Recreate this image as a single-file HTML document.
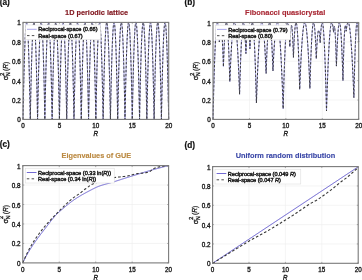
<!DOCTYPE html>
<html><head><meta charset="utf-8"><style>
html,body{margin:0;padding:0;background:#fff;}
svg{display:block;will-change:transform;}
text{font-family:"Liberation Sans",sans-serif;}
.t{stroke:#222;stroke-width:0.35px;}
.t2{stroke:#222;stroke-width:0.45px;}
</style></head><body>
<svg width="362" height="280" viewBox="0 0 362 280">
<rect width="362" height="280" fill="#fff"/>
<line x1="59.42" y1="22.4" x2="59.42" y2="119.4" stroke="#ececec" stroke-width="0.6"/>
<line x1="95.85" y1="22.4" x2="95.85" y2="119.4" stroke="#ececec" stroke-width="0.6"/>
<line x1="132.28" y1="22.4" x2="132.28" y2="119.4" stroke="#ececec" stroke-width="0.6"/>
<line x1="23.0" y1="100.00" x2="168.7" y2="100.00" stroke="#ececec" stroke-width="0.6"/>
<line x1="23.0" y1="80.60" x2="168.7" y2="80.60" stroke="#ececec" stroke-width="0.6"/>
<line x1="23.0" y1="61.20" x2="168.7" y2="61.20" stroke="#ececec" stroke-width="0.6"/>
<line x1="23.0" y1="41.80" x2="168.7" y2="41.80" stroke="#ececec" stroke-width="0.6"/>
<line x1="249.43" y1="22.5" x2="249.43" y2="119.4" stroke="#ececec" stroke-width="0.6"/>
<line x1="285.85" y1="22.5" x2="285.85" y2="119.4" stroke="#ececec" stroke-width="0.6"/>
<line x1="322.27" y1="22.5" x2="322.27" y2="119.4" stroke="#ececec" stroke-width="0.6"/>
<line x1="213.0" y1="100.02" x2="358.7" y2="100.02" stroke="#ececec" stroke-width="0.6"/>
<line x1="213.0" y1="80.64" x2="358.7" y2="80.64" stroke="#ececec" stroke-width="0.6"/>
<line x1="213.0" y1="61.26" x2="358.7" y2="61.26" stroke="#ececec" stroke-width="0.6"/>
<line x1="213.0" y1="41.88" x2="358.7" y2="41.88" stroke="#ececec" stroke-width="0.6"/>
<line x1="59.25" y1="165.6" x2="59.25" y2="262.9" stroke="#ececec" stroke-width="0.6"/>
<line x1="95.70" y1="165.6" x2="95.70" y2="262.9" stroke="#ececec" stroke-width="0.6"/>
<line x1="132.15" y1="165.6" x2="132.15" y2="262.9" stroke="#ececec" stroke-width="0.6"/>
<line x1="22.8" y1="243.44" x2="168.6" y2="243.44" stroke="#ececec" stroke-width="0.6"/>
<line x1="22.8" y1="223.98" x2="168.6" y2="223.98" stroke="#ececec" stroke-width="0.6"/>
<line x1="22.8" y1="204.52" x2="168.6" y2="204.52" stroke="#ececec" stroke-width="0.6"/>
<line x1="22.8" y1="185.06" x2="168.6" y2="185.06" stroke="#ececec" stroke-width="0.6"/>
<line x1="249.00" y1="166.6" x2="249.00" y2="263.3" stroke="#ececec" stroke-width="0.6"/>
<line x1="285.40" y1="166.6" x2="285.40" y2="263.3" stroke="#ececec" stroke-width="0.6"/>
<line x1="321.80" y1="166.6" x2="321.80" y2="263.3" stroke="#ececec" stroke-width="0.6"/>
<line x1="212.6" y1="243.96" x2="358.2" y2="243.96" stroke="#ececec" stroke-width="0.6"/>
<line x1="212.6" y1="224.62" x2="358.2" y2="224.62" stroke="#ececec" stroke-width="0.6"/>
<line x1="212.6" y1="205.28" x2="358.2" y2="205.28" stroke="#ececec" stroke-width="0.6"/>
<line x1="212.6" y1="185.94" x2="358.2" y2="185.94" stroke="#ececec" stroke-width="0.6"/>
<polyline points="23.00,119.40 23.07,115.56 23.15,111.80 23.22,108.11 23.29,104.50 23.36,100.97 23.44,97.52 23.51,94.14 23.58,90.84 23.66,87.62 23.73,84.48 23.80,81.41 23.87,78.43 23.95,75.52 24.02,72.68 24.09,69.93 24.17,67.25 24.24,64.65 24.31,62.13 24.38,59.69 24.46,57.32 24.53,55.03 24.60,52.82 24.68,50.69 24.75,48.63 24.82,46.65 24.89,44.75 24.97,42.93 25.04,41.18 25.11,39.51 25.19,37.92 25.26,36.41 25.33,34.97 25.40,33.61 25.48,32.33 25.55,31.13 25.62,30.00 25.70,28.96 25.77,27.99 25.84,27.09 25.91,26.28 25.99,25.54 26.06,24.88 26.13,24.30 26.21,23.80 26.28,23.37 26.35,23.02 26.42,22.75 26.50,22.56 26.57,22.44 26.64,22.40 26.72,22.44 26.79,22.56 26.86,22.75 26.93,23.02 27.01,23.37 27.08,23.80 27.15,24.30 27.23,24.88 27.30,25.54 27.37,26.28 27.44,27.09 27.52,27.99 27.59,28.96 27.66,30.00 27.74,31.13 27.81,32.33 27.88,33.61 27.95,34.97 28.03,36.41 28.10,37.92 28.17,39.51 28.25,41.18 28.32,42.93 28.39,44.75 28.46,46.65 28.54,48.63 28.61,50.69 28.68,52.82 28.76,55.03 28.83,57.32 28.90,59.69 28.97,62.13 29.05,64.65 29.12,67.25 29.19,69.93 29.27,72.68 29.34,75.52 29.41,78.43 29.48,81.41 29.56,84.48 29.63,87.62 29.70,90.84 29.78,94.14 29.85,97.52 29.92,100.97 29.99,104.50 30.07,108.11 30.14,111.80 30.21,115.56 30.29,119.40 30.36,115.56 30.43,111.80 30.50,108.11 30.58,104.50 30.65,100.97 30.72,97.52 30.79,94.14 30.87,90.84 30.94,87.62 31.01,84.48 31.09,81.41 31.16,78.43 31.23,75.52 31.30,72.68 31.38,69.93 31.45,67.25 31.52,64.65 31.60,62.13 31.67,59.69 31.74,57.32 31.81,55.03 31.89,52.82 31.96,50.69 32.03,48.63 32.11,46.65 32.18,44.75 32.25,42.93 32.32,41.18 32.40,39.51 32.47,37.92 32.54,36.41 32.62,34.97 32.69,33.61 32.76,32.33 32.83,31.13 32.91,30.00 32.98,28.96 33.05,27.99 33.13,27.09 33.20,26.28 33.27,25.54 33.34,24.88 33.42,24.30 33.49,23.80 33.56,23.37 33.64,23.02 33.71,22.75 33.78,22.56 33.85,22.44 33.93,22.40 34.00,22.44 34.07,22.56 34.15,22.75 34.22,23.02 34.29,23.37 34.36,23.80 34.44,24.30 34.51,24.88 34.58,25.54 34.66,26.28 34.73,27.09 34.80,27.99 34.87,28.96 34.95,30.00 35.02,31.13 35.09,32.33 35.17,33.61 35.24,34.97 35.31,36.41 35.38,37.92 35.46,39.51 35.53,41.18 35.60,42.93 35.68,44.75 35.75,46.65 35.82,48.63 35.89,50.69 35.97,52.82 36.04,55.03 36.11,57.32 36.19,59.69 36.26,62.13 36.33,64.65 36.40,67.25 36.48,69.93 36.55,72.68 36.62,75.52 36.70,78.43 36.77,81.41 36.84,84.48 36.91,87.62 36.99,90.84 37.06,94.14 37.13,97.52 37.21,100.97 37.28,104.50 37.35,108.11 37.42,111.80 37.50,115.56 37.57,119.40 37.64,115.56 37.72,111.80 37.79,108.11 37.86,104.50 37.93,100.97 38.01,97.52 38.08,94.14 38.15,90.84 38.23,87.62 38.30,84.48 38.37,81.41 38.44,78.43 38.52,75.52 38.59,72.68 38.66,69.93 38.74,67.25 38.81,64.65 38.88,62.13 38.95,59.69 39.03,57.32 39.10,55.03 39.17,52.82 39.25,50.69 39.32,48.63 39.39,46.65 39.46,44.75 39.54,42.93 39.61,41.18 39.68,39.51 39.76,37.92 39.83,36.41 39.90,34.97 39.97,33.61 40.05,32.33 40.12,31.13 40.19,30.00 40.27,28.96 40.34,27.99 40.41,27.09 40.48,26.28 40.56,25.54 40.63,24.88 40.70,24.30 40.78,23.80 40.85,23.37 40.92,23.02 40.99,22.75 41.07,22.56 41.14,22.44 41.21,22.40 41.29,22.44 41.36,22.56 41.43,22.75 41.50,23.02 41.58,23.37 41.65,23.80 41.72,24.30 41.80,24.88 41.87,25.54 41.94,26.28 42.01,27.09 42.09,27.99 42.16,28.96 42.23,30.00 42.31,31.13 42.38,32.33 42.45,33.61 42.52,34.97 42.60,36.41 42.67,37.92 42.74,39.51 42.82,41.18 42.89,42.93 42.96,44.75 43.03,46.65 43.11,48.63 43.18,50.69 43.25,52.82 43.33,55.03 43.40,57.32 43.47,59.69 43.54,62.13 43.62,64.65 43.69,67.25 43.76,69.93 43.84,72.68 43.91,75.52 43.98,78.43 44.05,81.41 44.13,84.48 44.20,87.62 44.27,90.84 44.35,94.14 44.42,97.52 44.49,100.97 44.56,104.50 44.64,108.11 44.71,111.80 44.78,115.56 44.85,119.40 44.93,115.56 45.00,111.80 45.07,108.11 45.15,104.50 45.22,100.97 45.29,97.52 45.36,94.14 45.44,90.84 45.51,87.62 45.58,84.48 45.66,81.41 45.73,78.43 45.80,75.52 45.87,72.68 45.95,69.93 46.02,67.25 46.09,64.65 46.17,62.13 46.24,59.69 46.31,57.32 46.38,55.03 46.46,52.82 46.53,50.69 46.60,48.63 46.68,46.65 46.75,44.75 46.82,42.93 46.89,41.18 46.97,39.51 47.04,37.92 47.11,36.41 47.19,34.97 47.26,33.61 47.33,32.33 47.40,31.13 47.48,30.00 47.55,28.96 47.62,27.99 47.70,27.09 47.77,26.28 47.84,25.54 47.91,24.88 47.99,24.30 48.06,23.80 48.13,23.37 48.21,23.02 48.28,22.75 48.35,22.56 48.42,22.44 48.50,22.40 48.57,22.44 48.64,22.56 48.72,22.75 48.79,23.02 48.86,23.37 48.93,23.80 49.01,24.30 49.08,24.88 49.15,25.54 49.23,26.28 49.30,27.09 49.37,27.99 49.44,28.96 49.52,30.00 49.59,31.13 49.66,32.33 49.74,33.61 49.81,34.97 49.88,36.41 49.95,37.92 50.03,39.51 50.10,41.18 50.17,42.93 50.25,44.75 50.32,46.65 50.39,48.63 50.46,50.69 50.54,52.82 50.61,55.03 50.68,57.32 50.76,59.69 50.83,62.13 50.90,64.65 50.97,67.25 51.05,69.93 51.12,72.68 51.19,75.52 51.27,78.43 51.34,81.41 51.41,84.48 51.48,87.62 51.56,90.84 51.63,94.14 51.70,97.52 51.78,100.97 51.85,104.50 51.92,108.11 51.99,111.80 52.07,115.56 52.14,119.40 52.21,115.56 52.29,111.80 52.36,108.11 52.43,104.50 52.50,100.97 52.58,97.52 52.65,94.14 52.72,90.84 52.80,87.62 52.87,84.48 52.94,81.41 53.01,78.43 53.09,75.52 53.16,72.68 53.23,69.93 53.31,67.25 53.38,64.65 53.45,62.13 53.52,59.69 53.60,57.32 53.67,55.03 53.74,52.82 53.82,50.69 53.89,48.63 53.96,46.65 54.03,44.75 54.11,42.93 54.18,41.18 54.25,39.51 54.33,37.92 54.40,36.41 54.47,34.97 54.54,33.61 54.62,32.33 54.69,31.13 54.76,30.00 54.84,28.96 54.91,27.99 54.98,27.09 55.05,26.28 55.13,25.54 55.20,24.88 55.27,24.30 55.35,23.80 55.42,23.37 55.49,23.02 55.56,22.75 55.64,22.56 55.71,22.44 55.78,22.40 55.86,22.44 55.93,22.56 56.00,22.75 56.07,23.02 56.15,23.37 56.22,23.80 56.29,24.30 56.37,24.88 56.44,25.54 56.51,26.28 56.58,27.09 56.66,27.99 56.73,28.96 56.80,30.00 56.88,31.13 56.95,32.33 57.02,33.61 57.09,34.97 57.17,36.41 57.24,37.92 57.31,39.51 57.39,41.18 57.46,42.93 57.53,44.75 57.60,46.65 57.68,48.63 57.75,50.69 57.82,52.82 57.90,55.03 57.97,57.32 58.04,59.69 58.11,62.13 58.19,64.65 58.26,67.25 58.33,69.93 58.41,72.68 58.48,75.52 58.55,78.43 58.62,81.41 58.70,84.48 58.77,87.62 58.84,90.84 58.92,94.14 58.99,97.52 59.06,100.97 59.13,104.50 59.21,108.11 59.28,111.80 59.35,115.56 59.42,119.40 59.50,115.56 59.57,111.80 59.64,108.11 59.72,104.50 59.79,100.97 59.86,97.52 59.93,94.14 60.01,90.84 60.08,87.62 60.15,84.48 60.23,81.41 60.30,78.43 60.37,75.52 60.44,72.68 60.52,69.93 60.59,67.25 60.66,64.65 60.74,62.13 60.81,59.69 60.88,57.32 60.95,55.03 61.03,52.82 61.10,50.69 61.17,48.63 61.25,46.65 61.32,44.75 61.39,42.93 61.46,41.18 61.54,39.51 61.61,37.92 61.68,36.41 61.76,34.97 61.83,33.61 61.90,32.33 61.97,31.13 62.05,30.00 62.12,28.96 62.19,27.99 62.27,27.09 62.34,26.28 62.41,25.54 62.48,24.88 62.56,24.30 62.63,23.80 62.70,23.37 62.78,23.02 62.85,22.75 62.92,22.56 62.99,22.44 63.07,22.40 63.14,22.44 63.21,22.56 63.29,22.75 63.36,23.02 63.43,23.37 63.50,23.80 63.58,24.30 63.65,24.88 63.72,25.54 63.80,26.28 63.87,27.09 63.94,27.99 64.01,28.96 64.09,30.00 64.16,31.13 64.23,32.33 64.31,33.61 64.38,34.97 64.45,36.41 64.52,37.92 64.60,39.51 64.67,41.18 64.74,42.93 64.82,44.75 64.89,46.65 64.96,48.63 65.03,50.69 65.11,52.82 65.18,55.03 65.25,57.32 65.33,59.69 65.40,62.13 65.47,64.65 65.54,67.25 65.62,69.93 65.69,72.68 65.76,75.52 65.84,78.43 65.91,81.41 65.98,84.48 66.05,87.62 66.13,90.84 66.20,94.14 66.27,97.52 66.35,100.97 66.42,104.50 66.49,108.11 66.56,111.80 66.64,115.56 66.71,119.40 66.78,115.56 66.86,111.80 66.93,108.11 67.00,104.50 67.07,100.97 67.15,97.52 67.22,94.14 67.29,90.84 67.37,87.62 67.44,84.48 67.51,81.41 67.58,78.43 67.66,75.52 67.73,72.68 67.80,69.93 67.88,67.25 67.95,64.65 68.02,62.13 68.09,59.69 68.17,57.32 68.24,55.03 68.31,52.82 68.39,50.69 68.46,48.63 68.53,46.65 68.60,44.75 68.68,42.93 68.75,41.18 68.82,39.51 68.90,37.92 68.97,36.41 69.04,34.97 69.11,33.61 69.19,32.33 69.26,31.13 69.33,30.00 69.41,28.96 69.48,27.99 69.55,27.09 69.62,26.28 69.70,25.54 69.77,24.88 69.84,24.30 69.92,23.80 69.99,23.37 70.06,23.02 70.13,22.75 70.21,22.56 70.28,22.44 70.35,22.40 70.43,22.44 70.50,22.56 70.57,22.75 70.64,23.02 70.72,23.37 70.79,23.80 70.86,24.30 70.94,24.88 71.01,25.54 71.08,26.28 71.15,27.09 71.23,27.99 71.30,28.96 71.37,30.00 71.45,31.13 71.52,32.33 71.59,33.61 71.66,34.97 71.74,36.41 71.81,37.92 71.88,39.51 71.96,41.18 72.03,42.93 72.10,44.75 72.17,46.65 72.25,48.63 72.32,50.69 72.39,52.82 72.47,55.03 72.54,57.32 72.61,59.69 72.68,62.13 72.76,64.65 72.83,67.25 72.90,69.93 72.98,72.68 73.05,75.52 73.12,78.43 73.19,81.41 73.27,84.48 73.34,87.62 73.41,90.84 73.49,94.14 73.56,97.52 73.63,100.97 73.70,104.50 73.78,108.11 73.85,111.80 73.92,115.56 73.99,119.40 74.07,115.56 74.14,111.80 74.21,108.11 74.29,104.50 74.36,100.97 74.43,97.52 74.50,94.14 74.58,90.84 74.65,87.62 74.72,84.48 74.80,81.41 74.87,78.43 74.94,75.52 75.01,72.68 75.09,69.93 75.16,67.25 75.23,64.65 75.31,62.13 75.38,59.69 75.45,57.32 75.52,55.03 75.60,52.82 75.67,50.69 75.74,48.63 75.82,46.65 75.89,44.75 75.96,42.93 76.03,41.18 76.11,39.51 76.18,37.92 76.25,36.41 76.33,34.97 76.40,33.61 76.47,32.33 76.54,31.13 76.62,30.00 76.69,28.96 76.76,27.99 76.84,27.09 76.91,26.28 76.98,25.54 77.05,24.88 77.13,24.30 77.20,23.80 77.27,23.37 77.35,23.02 77.42,22.75 77.49,22.56 77.56,22.44 77.64,22.40 77.71,22.44 77.78,22.56 77.86,22.75 77.93,23.02 78.00,23.37 78.07,23.80 78.15,24.30 78.22,24.88 78.29,25.54 78.37,26.28 78.44,27.09 78.51,27.99 78.58,28.96 78.66,30.00 78.73,31.13 78.80,32.33 78.88,33.61 78.95,34.97 79.02,36.41 79.09,37.92 79.17,39.51 79.24,41.18 79.31,42.93 79.39,44.75 79.46,46.65 79.53,48.63 79.60,50.69 79.68,52.82 79.75,55.03 79.82,57.32 79.90,59.69 79.97,62.13 80.04,64.65 80.11,67.25 80.19,69.93 80.26,72.68 80.33,75.52 80.41,78.43 80.48,81.41 80.55,84.48 80.62,87.62 80.70,90.84 80.77,94.14 80.84,97.52 80.92,100.97 80.99,104.50 81.06,108.11 81.13,111.80 81.21,115.56 81.28,119.40 81.35,115.56 81.43,111.80 81.50,108.11 81.57,104.50 81.64,100.97 81.72,97.52 81.79,94.14 81.86,90.84 81.94,87.62 82.01,84.48 82.08,81.41 82.15,78.43 82.23,75.52 82.30,72.68 82.37,69.93 82.45,67.25 82.52,64.65 82.59,62.13 82.66,59.69 82.74,57.32 82.81,55.03 82.88,52.82 82.96,50.69 83.03,48.63 83.10,46.65 83.17,44.75 83.25,42.93 83.32,41.18 83.39,39.51 83.47,37.92 83.54,36.41 83.61,34.97 83.68,33.61 83.76,32.33 83.83,31.13 83.90,30.00 83.98,28.96 84.05,27.99 84.12,27.09 84.19,26.28 84.27,25.54 84.34,24.88 84.41,24.30 84.49,23.80 84.56,23.37 84.63,23.02 84.70,22.75 84.78,22.56 84.85,22.44 84.92,22.40 85.00,22.44 85.07,22.56 85.14,22.75 85.21,23.02 85.29,23.37 85.36,23.80 85.43,24.30 85.51,24.88 85.58,25.54 85.65,26.28 85.72,27.09 85.80,27.99 85.87,28.96 85.94,30.00 86.02,31.13 86.09,32.33 86.16,33.61 86.23,34.97 86.31,36.41 86.38,37.92 86.45,39.51 86.53,41.18 86.60,42.93 86.67,44.75 86.74,46.65 86.82,48.63 86.89,50.69 86.96,52.82 87.04,55.03 87.11,57.32 87.18,59.69 87.25,62.13 87.33,64.65 87.40,67.25 87.47,69.93 87.55,72.68 87.62,75.52 87.69,78.43 87.76,81.41 87.84,84.48 87.91,87.62 87.98,90.84 88.06,94.14 88.13,97.52 88.20,100.97 88.27,104.50 88.35,108.11 88.42,111.80 88.49,115.56 88.56,119.40 88.64,115.56 88.71,111.80 88.78,108.11 88.86,104.50 88.93,100.97 89.00,97.52 89.07,94.14 89.15,90.84 89.22,87.62 89.29,84.48 89.37,81.41 89.44,78.43 89.51,75.52 89.58,72.68 89.66,69.93 89.73,67.25 89.80,64.65 89.88,62.13 89.95,59.69 90.02,57.32 90.09,55.03 90.17,52.82 90.24,50.69 90.31,48.63 90.39,46.65 90.46,44.75 90.53,42.93 90.60,41.18 90.68,39.51 90.75,37.92 90.82,36.41 90.90,34.97 90.97,33.61 91.04,32.33 91.11,31.13 91.19,30.00 91.26,28.96 91.33,27.99 91.41,27.09 91.48,26.28 91.55,25.54 91.62,24.88 91.70,24.30 91.77,23.80 91.84,23.37 91.92,23.02 91.99,22.75 92.06,22.56 92.13,22.44 92.21,22.40 92.28,22.44 92.35,22.56 92.43,22.75 92.50,23.02 92.57,23.37 92.64,23.80 92.72,24.30 92.79,24.88 92.86,25.54 92.94,26.28 93.01,27.09 93.08,27.99 93.15,28.96 93.23,30.00 93.30,31.13 93.37,32.33 93.45,33.61 93.52,34.97 93.59,36.41 93.66,37.92 93.74,39.51 93.81,41.18 93.88,42.93 93.96,44.75 94.03,46.65 94.10,48.63 94.17,50.69 94.25,52.82 94.32,55.03 94.39,57.32 94.47,59.69 94.54,62.13 94.61,64.65 94.68,67.25 94.76,69.93 94.83,72.68 94.90,75.52 94.98,78.43 95.05,81.41 95.12,84.48 95.19,87.62 95.27,90.84 95.34,94.14 95.41,97.52 95.49,100.97 95.56,104.50 95.63,108.11 95.70,111.80 95.78,115.56 95.85,119.40 95.92,115.56 96.00,111.80 96.07,108.11 96.14,104.50 96.21,100.97 96.29,97.52 96.36,94.14 96.43,90.84 96.51,87.62 96.58,84.48 96.65,81.41 96.72,78.43 96.80,75.52 96.87,72.68 96.94,69.93 97.02,67.25 97.09,64.65 97.16,62.13 97.23,59.69 97.31,57.32 97.38,55.03 97.45,52.82 97.53,50.69 97.60,48.63 97.67,46.65 97.74,44.75 97.82,42.93 97.89,41.18 97.96,39.51 98.04,37.92 98.11,36.41 98.18,34.97 98.25,33.61 98.33,32.33 98.40,31.13 98.47,30.00 98.55,28.96 98.62,27.99 98.69,27.09 98.76,26.28 98.84,25.54 98.91,24.88 98.98,24.30 99.06,23.80 99.13,23.37 99.20,23.02 99.27,22.75 99.35,22.56 99.42,22.44 99.49,22.40 99.57,22.44 99.64,22.56 99.71,22.75 99.78,23.02 99.86,23.37 99.93,23.80 100.00,24.30 100.08,24.88 100.15,25.54 100.22,26.28 100.29,27.09 100.37,27.99 100.44,28.96 100.51,30.00 100.59,31.13 100.66,32.33 100.73,33.61 100.80,34.97 100.88,36.41 100.95,37.92 101.02,39.51 101.10,41.18 101.17,42.93 101.24,44.75 101.31,46.65 101.39,48.63 101.46,50.69 101.53,52.82 101.61,55.03 101.68,57.32 101.75,59.69 101.82,62.13 101.90,64.65 101.97,67.25 102.04,69.93 102.12,72.68 102.19,75.52 102.26,78.43 102.33,81.41 102.41,84.48 102.48,87.62 102.55,90.84 102.63,94.14 102.70,97.52 102.77,100.97 102.84,104.50 102.92,108.11 102.99,111.80 103.06,115.56 103.13,119.40 103.21,115.56 103.28,111.80 103.35,108.11 103.43,104.50 103.50,100.97 103.57,97.52 103.64,94.14 103.72,90.84 103.79,87.62 103.86,84.48 103.94,81.41 104.01,78.43 104.08,75.52 104.15,72.68 104.23,69.93 104.30,67.25 104.37,64.65 104.45,62.13 104.52,59.69 104.59,57.32 104.66,55.03 104.74,52.82 104.81,50.69 104.88,48.63 104.96,46.65 105.03,44.75 105.10,42.93 105.17,41.18 105.25,39.51 105.32,37.92 105.39,36.41 105.47,34.97 105.54,33.61 105.61,32.33 105.68,31.13 105.76,30.00 105.83,28.96 105.90,27.99 105.98,27.09 106.05,26.28 106.12,25.54 106.19,24.88 106.27,24.30 106.34,23.80 106.41,23.37 106.49,23.02 106.56,22.75 106.63,22.56 106.70,22.44 106.78,22.40 106.85,22.44 106.92,22.56 107.00,22.75 107.07,23.02 107.14,23.37 107.21,23.80 107.29,24.30 107.36,24.88 107.43,25.54 107.51,26.28 107.58,27.09 107.65,27.99 107.72,28.96 107.80,30.00 107.87,31.13 107.94,32.33 108.02,33.61 108.09,34.97 108.16,36.41 108.23,37.92 108.31,39.51 108.38,41.18 108.45,42.93 108.53,44.75 108.60,46.65 108.67,48.63 108.74,50.69 108.82,52.82 108.89,55.03 108.96,57.32 109.04,59.69 109.11,62.13 109.18,64.65 109.25,67.25 109.33,69.93 109.40,72.68 109.47,75.52 109.55,78.43 109.62,81.41 109.69,84.48 109.76,87.62 109.84,90.84 109.91,94.14 109.98,97.52 110.06,100.97 110.13,104.50 110.20,108.11 110.27,111.80 110.35,115.56 110.42,119.40 110.49,115.56 110.57,111.80 110.64,108.11 110.71,104.50 110.78,100.97 110.86,97.52 110.93,94.14 111.00,90.84 111.08,87.62 111.15,84.48 111.22,81.41 111.29,78.43 111.37,75.52 111.44,72.68 111.51,69.93 111.59,67.25 111.66,64.65 111.73,62.13 111.80,59.69 111.88,57.32 111.95,55.03 112.02,52.82 112.10,50.69 112.17,48.63 112.24,46.65 112.31,44.75 112.39,42.93 112.46,41.18 112.53,39.51 112.61,37.92 112.68,36.41 112.75,34.97 112.82,33.61 112.90,32.33 112.97,31.13 113.04,30.00 113.12,28.96 113.19,27.99 113.26,27.09 113.33,26.28 113.41,25.54 113.48,24.88 113.55,24.30 113.63,23.80 113.70,23.37 113.77,23.02 113.84,22.75 113.92,22.56 113.99,22.44 114.06,22.40 114.14,22.44 114.21,22.56 114.28,22.75 114.35,23.02 114.43,23.37 114.50,23.80 114.57,24.30 114.65,24.88 114.72,25.54 114.79,26.28 114.86,27.09 114.94,27.99 115.01,28.96 115.08,30.00 115.16,31.13 115.23,32.33 115.30,33.61 115.37,34.97 115.45,36.41 115.52,37.92 115.59,39.51 115.67,41.18 115.74,42.93 115.81,44.75 115.88,46.65 115.96,48.63 116.03,50.69 116.10,52.82 116.18,55.03 116.25,57.32 116.32,59.69 116.39,62.13 116.47,64.65 116.54,67.25 116.61,69.93 116.69,72.68 116.76,75.52 116.83,78.43 116.90,81.41 116.98,84.48 117.05,87.62 117.12,90.84 117.20,94.14 117.27,97.52 117.34,100.97 117.41,104.50 117.49,108.11 117.56,111.80 117.63,115.56 117.70,119.40 117.78,115.56 117.85,111.80 117.92,108.11 118.00,104.50 118.07,100.97 118.14,97.52 118.21,94.14 118.29,90.84 118.36,87.62 118.43,84.48 118.51,81.41 118.58,78.43 118.65,75.52 118.72,72.68 118.80,69.93 118.87,67.25 118.94,64.65 119.02,62.13 119.09,59.69 119.16,57.32 119.23,55.03 119.31,52.82 119.38,50.69 119.45,48.63 119.53,46.65 119.60,44.75 119.67,42.93 119.74,41.18 119.82,39.51 119.89,37.92 119.96,36.41 120.04,34.97 120.11,33.61 120.18,32.33 120.25,31.13 120.33,30.00 120.40,28.96 120.47,27.99 120.55,27.09 120.62,26.28 120.69,25.54 120.76,24.88 120.84,24.30 120.91,23.80 120.98,23.37 121.06,23.02 121.13,22.75 121.20,22.56 121.27,22.44 121.35,22.40 121.42,22.44 121.49,22.56 121.57,22.75 121.64,23.02 121.71,23.37 121.78,23.80 121.86,24.30 121.93,24.88 122.00,25.54 122.08,26.28 122.15,27.09 122.22,27.99 122.29,28.96 122.37,30.00 122.44,31.13 122.51,32.33 122.59,33.61 122.66,34.97 122.73,36.41 122.80,37.92 122.88,39.51 122.95,41.18 123.02,42.93 123.10,44.75 123.17,46.65 123.24,48.63 123.31,50.69 123.39,52.82 123.46,55.03 123.53,57.32 123.61,59.69 123.68,62.13 123.75,64.65 123.82,67.25 123.90,69.93 123.97,72.68 124.04,75.52 124.12,78.43 124.19,81.41 124.26,84.48 124.33,87.62 124.41,90.84 124.48,94.14 124.55,97.52 124.63,100.97 124.70,104.50 124.77,108.11 124.84,111.80 124.92,115.56 124.99,119.40 125.06,115.56 125.14,111.80 125.21,108.11 125.28,104.50 125.35,100.97 125.43,97.52 125.50,94.14 125.57,90.84 125.65,87.62 125.72,84.48 125.79,81.41 125.86,78.43 125.94,75.52 126.01,72.68 126.08,69.93 126.16,67.25 126.23,64.65 126.30,62.13 126.37,59.69 126.45,57.32 126.52,55.03 126.59,52.82 126.67,50.69 126.74,48.63 126.81,46.65 126.88,44.75 126.96,42.93 127.03,41.18 127.10,39.51 127.18,37.92 127.25,36.41 127.32,34.97 127.39,33.61 127.47,32.33 127.54,31.13 127.61,30.00 127.69,28.96 127.76,27.99 127.83,27.09 127.90,26.28 127.98,25.54 128.05,24.88 128.12,24.30 128.20,23.80 128.27,23.37 128.34,23.02 128.41,22.75 128.49,22.56 128.56,22.44 128.63,22.40 128.71,22.44 128.78,22.56 128.85,22.75 128.92,23.02 129.00,23.37 129.07,23.80 129.14,24.30 129.22,24.88 129.29,25.54 129.36,26.28 129.43,27.09 129.51,27.99 129.58,28.96 129.65,30.00 129.73,31.13 129.80,32.33 129.87,33.61 129.94,34.97 130.02,36.41 130.09,37.92 130.16,39.51 130.24,41.18 130.31,42.93 130.38,44.75 130.45,46.65 130.53,48.63 130.60,50.69 130.67,52.82 130.75,55.03 130.82,57.32 130.89,59.69 130.96,62.13 131.04,64.65 131.11,67.25 131.18,69.93 131.26,72.68 131.33,75.52 131.40,78.43 131.47,81.41 131.55,84.48 131.62,87.62 131.69,90.84 131.77,94.14 131.84,97.52 131.91,100.97 131.98,104.50 132.06,108.11 132.13,111.80 132.20,115.56 132.28,119.40 132.35,115.56 132.42,111.80 132.49,108.11 132.57,104.50 132.64,100.97 132.71,97.52 132.78,94.14 132.86,90.84 132.93,87.62 133.00,84.48 133.08,81.41 133.15,78.43 133.22,75.52 133.29,72.68 133.37,69.93 133.44,67.25 133.51,64.65 133.59,62.13 133.66,59.69 133.73,57.32 133.80,55.03 133.88,52.82 133.95,50.69 134.02,48.63 134.10,46.65 134.17,44.75 134.24,42.93 134.31,41.18 134.39,39.51 134.46,37.92 134.53,36.41 134.61,34.97 134.68,33.61 134.75,32.33 134.82,31.13 134.90,30.00 134.97,28.96 135.04,27.99 135.12,27.09 135.19,26.28 135.26,25.54 135.33,24.88 135.41,24.30 135.48,23.80 135.55,23.37 135.63,23.02 135.70,22.75 135.77,22.56 135.84,22.44 135.92,22.40 135.99,22.44 136.06,22.56 136.14,22.75 136.21,23.02 136.28,23.37 136.35,23.80 136.43,24.30 136.50,24.88 136.57,25.54 136.65,26.28 136.72,27.09 136.79,27.99 136.86,28.96 136.94,30.00 137.01,31.13 137.08,32.33 137.16,33.61 137.23,34.97 137.30,36.41 137.37,37.92 137.45,39.51 137.52,41.18 137.59,42.93 137.67,44.75 137.74,46.65 137.81,48.63 137.88,50.69 137.96,52.82 138.03,55.03 138.10,57.32 138.18,59.69 138.25,62.13 138.32,64.65 138.39,67.25 138.47,69.93 138.54,72.68 138.61,75.52 138.69,78.43 138.76,81.41 138.83,84.48 138.90,87.62 138.98,90.84 139.05,94.14 139.12,97.52 139.20,100.97 139.27,104.50 139.34,108.11 139.41,111.80 139.49,115.56 139.56,119.40 139.63,115.56 139.71,111.80 139.78,108.11 139.85,104.50 139.92,100.97 140.00,97.52 140.07,94.14 140.14,90.84 140.22,87.62 140.29,84.48 140.36,81.41 140.43,78.43 140.51,75.52 140.58,72.68 140.65,69.93 140.73,67.25 140.80,64.65 140.87,62.13 140.94,59.69 141.02,57.32 141.09,55.03 141.16,52.82 141.24,50.69 141.31,48.63 141.38,46.65 141.45,44.75 141.53,42.93 141.60,41.18 141.67,39.51 141.75,37.92 141.82,36.41 141.89,34.97 141.96,33.61 142.04,32.33 142.11,31.13 142.18,30.00 142.26,28.96 142.33,27.99 142.40,27.09 142.47,26.28 142.55,25.54 142.62,24.88 142.69,24.30 142.77,23.80 142.84,23.37 142.91,23.02 142.98,22.75 143.06,22.56 143.13,22.44 143.20,22.40 143.28,22.44 143.35,22.56 143.42,22.75 143.49,23.02 143.57,23.37 143.64,23.80 143.71,24.30 143.79,24.88 143.86,25.54 143.93,26.28 144.00,27.09 144.08,27.99 144.15,28.96 144.22,30.00 144.30,31.13 144.37,32.33 144.44,33.61 144.51,34.97 144.59,36.41 144.66,37.92 144.73,39.51 144.81,41.18 144.88,42.93 144.95,44.75 145.02,46.65 145.10,48.63 145.17,50.69 145.24,52.82 145.32,55.03 145.39,57.32 145.46,59.69 145.53,62.13 145.61,64.65 145.68,67.25 145.75,69.93 145.83,72.68 145.90,75.52 145.97,78.43 146.04,81.41 146.12,84.48 146.19,87.62 146.26,90.84 146.34,94.14 146.41,97.52 146.48,100.97 146.55,104.50 146.63,108.11 146.70,111.80 146.77,115.56 146.84,119.40 146.92,115.56 146.99,111.80 147.06,108.11 147.14,104.50 147.21,100.97 147.28,97.52 147.35,94.14 147.43,90.84 147.50,87.62 147.57,84.48 147.65,81.41 147.72,78.43 147.79,75.52 147.86,72.68 147.94,69.93 148.01,67.25 148.08,64.65 148.16,62.13 148.23,59.69 148.30,57.32 148.37,55.03 148.45,52.82 148.52,50.69 148.59,48.63 148.67,46.65 148.74,44.75 148.81,42.93 148.88,41.18 148.96,39.51 149.03,37.92 149.10,36.41 149.18,34.97 149.25,33.61 149.32,32.33 149.39,31.13 149.47,30.00 149.54,28.96 149.61,27.99 149.69,27.09 149.76,26.28 149.83,25.54 149.90,24.88 149.98,24.30 150.05,23.80 150.12,23.37 150.20,23.02 150.27,22.75 150.34,22.56 150.41,22.44 150.49,22.40 150.56,22.44 150.63,22.56 150.71,22.75 150.78,23.02 150.85,23.37 150.92,23.80 151.00,24.30 151.07,24.88 151.14,25.54 151.22,26.28 151.29,27.09 151.36,27.99 151.43,28.96 151.51,30.00 151.58,31.13 151.65,32.33 151.73,33.61 151.80,34.97 151.87,36.41 151.94,37.92 152.02,39.51 152.09,41.18 152.16,42.93 152.24,44.75 152.31,46.65 152.38,48.63 152.45,50.69 152.53,52.82 152.60,55.03 152.67,57.32 152.75,59.69 152.82,62.13 152.89,64.65 152.96,67.25 153.04,69.93 153.11,72.68 153.18,75.52 153.26,78.43 153.33,81.41 153.40,84.48 153.47,87.62 153.55,90.84 153.62,94.14 153.69,97.52 153.77,100.97 153.84,104.50 153.91,108.11 153.98,111.80 154.06,115.56 154.13,119.40 154.20,115.56 154.28,111.80 154.35,108.11 154.42,104.50 154.49,100.97 154.57,97.52 154.64,94.14 154.71,90.84 154.79,87.62 154.86,84.48 154.93,81.41 155.00,78.43 155.08,75.52 155.15,72.68 155.22,69.93 155.30,67.25 155.37,64.65 155.44,62.13 155.51,59.69 155.59,57.32 155.66,55.03 155.73,52.82 155.81,50.69 155.88,48.63 155.95,46.65 156.02,44.75 156.10,42.93 156.17,41.18 156.24,39.51 156.32,37.92 156.39,36.41 156.46,34.97 156.53,33.61 156.61,32.33 156.68,31.13 156.75,30.00 156.83,28.96 156.90,27.99 156.97,27.09 157.04,26.28 157.12,25.54 157.19,24.88 157.26,24.30 157.34,23.80 157.41,23.37 157.48,23.02 157.55,22.75 157.63,22.56 157.70,22.44 157.77,22.40 157.85,22.44 157.92,22.56 157.99,22.75 158.06,23.02 158.14,23.37 158.21,23.80 158.28,24.30 158.36,24.88 158.43,25.54 158.50,26.28 158.57,27.09 158.65,27.99 158.72,28.96 158.79,30.00 158.87,31.13 158.94,32.33 159.01,33.61 159.08,34.97 159.16,36.41 159.23,37.92 159.30,39.51 159.38,41.18 159.45,42.93 159.52,44.75 159.59,46.65 159.67,48.63 159.74,50.69 159.81,52.82 159.89,55.03 159.96,57.32 160.03,59.69 160.10,62.13 160.18,64.65 160.25,67.25 160.32,69.93 160.40,72.68 160.47,75.52 160.54,78.43 160.61,81.41 160.69,84.48 160.76,87.62 160.83,90.84 160.91,94.14 160.98,97.52 161.05,100.97 161.12,104.50 161.20,108.11 161.27,111.80 161.34,115.56 161.41,119.40 161.49,115.56 161.56,111.80 161.63,108.11 161.71,104.50 161.78,100.97 161.85,97.52 161.92,94.14 162.00,90.84 162.07,87.62 162.14,84.48 162.22,81.41 162.29,78.43 162.36,75.52 162.43,72.68 162.51,69.93 162.58,67.25 162.65,64.65 162.73,62.13 162.80,59.69 162.87,57.32 162.94,55.03 163.02,52.82 163.09,50.69 163.16,48.63 163.24,46.65 163.31,44.75 163.38,42.93 163.45,41.18 163.53,39.51 163.60,37.92 163.67,36.41 163.75,34.97 163.82,33.61 163.89,32.33 163.96,31.13 164.04,30.00 164.11,28.96 164.18,27.99 164.26,27.09 164.33,26.28 164.40,25.54 164.47,24.88 164.55,24.30 164.62,23.80 164.69,23.37 164.77,23.02 164.84,22.75 164.91,22.56 164.98,22.44 165.06,22.40 165.13,22.44 165.20,22.56 165.28,22.75 165.35,23.02 165.42,23.37 165.49,23.80 165.57,24.30 165.64,24.88 165.71,25.54 165.79,26.28 165.86,27.09 165.93,27.99 166.00,28.96 166.08,30.00 166.15,31.13 166.22,32.33 166.30,33.61 166.37,34.97 166.44,36.41 166.51,37.92 166.59,39.51 166.66,41.18 166.73,42.93 166.81,44.75 166.88,46.65 166.95,48.63 167.02,50.69 167.10,52.82 167.17,55.03 167.24,57.32 167.32,59.69 167.39,62.13 167.46,64.65 167.53,67.25 167.61,69.93 167.68,72.68 167.75,75.52 167.83,78.43 167.90,81.41 167.97,84.48 168.04,87.62 168.12,90.84 168.19,94.14 168.26,97.52 168.34,100.97 168.41,104.50 168.48,108.11 168.55,111.80 168.63,115.56 168.70,119.40" fill="none" stroke="#a29ee8" stroke-width="0.9" stroke-linejoin="round"/>
<polyline points="23.00,119.40 23.07,115.56 23.15,111.80 23.22,108.11 23.29,104.50 23.36,100.97 23.44,97.52 23.51,94.14 23.58,90.84 23.66,87.62 23.73,84.48 23.80,81.41 23.87,78.43 23.95,75.52 24.02,72.68 24.09,69.93 24.17,67.25 24.24,64.65 24.31,62.13 24.38,59.69 24.46,57.32 24.53,55.03 24.60,52.82 24.68,50.69 24.75,48.63 24.82,46.65 24.89,44.75 24.97,42.93 25.04,41.18 25.11,39.51 25.19,37.92 25.26,36.41 25.33,34.97 25.40,33.61 25.48,32.33 25.55,31.13 25.62,30.00 25.70,28.96 25.77,27.99 25.84,27.09 25.91,26.28 25.99,25.54 26.06,24.88 26.13,24.30 26.21,23.80 26.28,23.37 26.35,23.02 26.42,22.75 26.50,22.56 26.57,22.44 26.64,22.40 26.72,22.44 26.79,22.56 26.86,22.75 26.93,23.02 27.01,23.37 27.08,23.80 27.15,24.30 27.23,24.88 27.30,25.54 27.37,26.28 27.44,27.09 27.52,27.99 27.59,28.96 27.66,30.00 27.74,31.13 27.81,32.33 27.88,33.61 27.95,34.97 28.03,36.41 28.10,37.92 28.17,39.51 28.25,41.18 28.32,42.93 28.39,44.75 28.46,46.65 28.54,48.63 28.61,50.69 28.68,52.82 28.76,55.03 28.83,57.32 28.90,59.69 28.97,62.13 29.05,64.65 29.12,67.25 29.19,69.93 29.27,72.68 29.34,75.52 29.41,78.43 29.48,81.41 29.56,84.48 29.63,87.62 29.70,90.84 29.78,94.14 29.85,97.52 29.92,100.97 29.99,104.50 30.07,108.11 30.14,111.80 30.21,115.56 30.29,119.40 30.36,115.56 30.43,111.80 30.50,108.11 30.58,104.50 30.65,100.97 30.72,97.52 30.79,94.14 30.87,90.84 30.94,87.62 31.01,84.48 31.09,81.41 31.16,78.43 31.23,75.52 31.30,72.68 31.38,69.93 31.45,67.25 31.52,64.65 31.60,62.13 31.67,59.69 31.74,57.32 31.81,55.03 31.89,52.82 31.96,50.69 32.03,48.63 32.11,46.65 32.18,44.75 32.25,42.93 32.32,41.18 32.40,39.51 32.47,37.92 32.54,36.41 32.62,34.97 32.69,33.61 32.76,32.33 32.83,31.13 32.91,30.00 32.98,28.96 33.05,27.99 33.13,27.09 33.20,26.28 33.27,25.54 33.34,24.88 33.42,24.30 33.49,23.80 33.56,23.37 33.64,23.02 33.71,22.75 33.78,22.56 33.85,22.44 33.93,22.40 34.00,22.44 34.07,22.56 34.15,22.75 34.22,23.02 34.29,23.37 34.36,23.80 34.44,24.30 34.51,24.88 34.58,25.54 34.66,26.28 34.73,27.09 34.80,27.99 34.87,28.96 34.95,30.00 35.02,31.13 35.09,32.33 35.17,33.61 35.24,34.97 35.31,36.41 35.38,37.92 35.46,39.51 35.53,41.18 35.60,42.93 35.68,44.75 35.75,46.65 35.82,48.63 35.89,50.69 35.97,52.82 36.04,55.03 36.11,57.32 36.19,59.69 36.26,62.13 36.33,64.65 36.40,67.25 36.48,69.93 36.55,72.68 36.62,75.52 36.70,78.43 36.77,81.41 36.84,84.48 36.91,87.62 36.99,90.84 37.06,94.14 37.13,97.52 37.21,100.97 37.28,104.50 37.35,108.11 37.42,111.80 37.50,115.56 37.57,119.40 37.64,115.56 37.72,111.80 37.79,108.11 37.86,104.50 37.93,100.97 38.01,97.52 38.08,94.14 38.15,90.84 38.23,87.62 38.30,84.48 38.37,81.41 38.44,78.43 38.52,75.52 38.59,72.68 38.66,69.93 38.74,67.25 38.81,64.65 38.88,62.13 38.95,59.69 39.03,57.32 39.10,55.03 39.17,52.82 39.25,50.69 39.32,48.63 39.39,46.65 39.46,44.75 39.54,42.93 39.61,41.18 39.68,39.51 39.76,37.92 39.83,36.41 39.90,34.97 39.97,33.61 40.05,32.33 40.12,31.13 40.19,30.00 40.27,28.96 40.34,27.99 40.41,27.09 40.48,26.28 40.56,25.54 40.63,24.88 40.70,24.30 40.78,23.80 40.85,23.37 40.92,23.02 40.99,22.75 41.07,22.56 41.14,22.44 41.21,22.40 41.29,22.44 41.36,22.56 41.43,22.75 41.50,23.02 41.58,23.37 41.65,23.80 41.72,24.30 41.80,24.88 41.87,25.54 41.94,26.28 42.01,27.09 42.09,27.99 42.16,28.96 42.23,30.00 42.31,31.13 42.38,32.33 42.45,33.61 42.52,34.97 42.60,36.41 42.67,37.92 42.74,39.51 42.82,41.18 42.89,42.93 42.96,44.75 43.03,46.65 43.11,48.63 43.18,50.69 43.25,52.82 43.33,55.03 43.40,57.32 43.47,59.69 43.54,62.13 43.62,64.65 43.69,67.25 43.76,69.93 43.84,72.68 43.91,75.52 43.98,78.43 44.05,81.41 44.13,84.48 44.20,87.62 44.27,90.84 44.35,94.14 44.42,97.52 44.49,100.97 44.56,104.50 44.64,108.11 44.71,111.80 44.78,115.56 44.85,119.40 44.93,115.56 45.00,111.80 45.07,108.11 45.15,104.50 45.22,100.97 45.29,97.52 45.36,94.14 45.44,90.84 45.51,87.62 45.58,84.48 45.66,81.41 45.73,78.43 45.80,75.52 45.87,72.68 45.95,69.93 46.02,67.25 46.09,64.65 46.17,62.13 46.24,59.69 46.31,57.32 46.38,55.03 46.46,52.82 46.53,50.69 46.60,48.63 46.68,46.65 46.75,44.75 46.82,42.93 46.89,41.18 46.97,39.51 47.04,37.92 47.11,36.41 47.19,34.97 47.26,33.61 47.33,32.33 47.40,31.13 47.48,30.00 47.55,28.96 47.62,27.99 47.70,27.09 47.77,26.28 47.84,25.54 47.91,24.88 47.99,24.30 48.06,23.80 48.13,23.37 48.21,23.02 48.28,22.75 48.35,22.56 48.42,22.44 48.50,22.40 48.57,22.44 48.64,22.56 48.72,22.75 48.79,23.02 48.86,23.37 48.93,23.80 49.01,24.30 49.08,24.88 49.15,25.54 49.23,26.28 49.30,27.09 49.37,27.99 49.44,28.96 49.52,30.00 49.59,31.13 49.66,32.33 49.74,33.61 49.81,34.97 49.88,36.41 49.95,37.92 50.03,39.51 50.10,41.18 50.17,42.93 50.25,44.75 50.32,46.65 50.39,48.63 50.46,50.69 50.54,52.82 50.61,55.03 50.68,57.32 50.76,59.69 50.83,62.13 50.90,64.65 50.97,67.25 51.05,69.93 51.12,72.68 51.19,75.52 51.27,78.43 51.34,81.41 51.41,84.48 51.48,87.62 51.56,90.84 51.63,94.14 51.70,97.52 51.78,100.97 51.85,104.50 51.92,108.11 51.99,111.80 52.07,115.56 52.14,119.40 52.21,115.56 52.29,111.80 52.36,108.11 52.43,104.50 52.50,100.97 52.58,97.52 52.65,94.14 52.72,90.84 52.80,87.62 52.87,84.48 52.94,81.41 53.01,78.43 53.09,75.52 53.16,72.68 53.23,69.93 53.31,67.25 53.38,64.65 53.45,62.13 53.52,59.69 53.60,57.32 53.67,55.03 53.74,52.82 53.82,50.69 53.89,48.63 53.96,46.65 54.03,44.75 54.11,42.93 54.18,41.18 54.25,39.51 54.33,37.92 54.40,36.41 54.47,34.97 54.54,33.61 54.62,32.33 54.69,31.13 54.76,30.00 54.84,28.96 54.91,27.99 54.98,27.09 55.05,26.28 55.13,25.54 55.20,24.88 55.27,24.30 55.35,23.80 55.42,23.37 55.49,23.02 55.56,22.75 55.64,22.56 55.71,22.44 55.78,22.40 55.86,22.44 55.93,22.56 56.00,22.75 56.07,23.02 56.15,23.37 56.22,23.80 56.29,24.30 56.37,24.88 56.44,25.54 56.51,26.28 56.58,27.09 56.66,27.99 56.73,28.96 56.80,30.00 56.88,31.13 56.95,32.33 57.02,33.61 57.09,34.97 57.17,36.41 57.24,37.92 57.31,39.51 57.39,41.18 57.46,42.93 57.53,44.75 57.60,46.65 57.68,48.63 57.75,50.69 57.82,52.82 57.90,55.03 57.97,57.32 58.04,59.69 58.11,62.13 58.19,64.65 58.26,67.25 58.33,69.93 58.41,72.68 58.48,75.52 58.55,78.43 58.62,81.41 58.70,84.48 58.77,87.62 58.84,90.84 58.92,94.14 58.99,97.52 59.06,100.97 59.13,104.50 59.21,108.11 59.28,111.80 59.35,115.56 59.42,119.40 59.50,115.56 59.57,111.80 59.64,108.11 59.72,104.50 59.79,100.97 59.86,97.52 59.93,94.14 60.01,90.84 60.08,87.62 60.15,84.48 60.23,81.41 60.30,78.43 60.37,75.52 60.44,72.68 60.52,69.93 60.59,67.25 60.66,64.65 60.74,62.13 60.81,59.69 60.88,57.32 60.95,55.03 61.03,52.82 61.10,50.69 61.17,48.63 61.25,46.65 61.32,44.75 61.39,42.93 61.46,41.18 61.54,39.51 61.61,37.92 61.68,36.41 61.76,34.97 61.83,33.61 61.90,32.33 61.97,31.13 62.05,30.00 62.12,28.96 62.19,27.99 62.27,27.09 62.34,26.28 62.41,25.54 62.48,24.88 62.56,24.30 62.63,23.80 62.70,23.37 62.78,23.02 62.85,22.75 62.92,22.56 62.99,22.44 63.07,22.40 63.14,22.44 63.21,22.56 63.29,22.75 63.36,23.02 63.43,23.37 63.50,23.80 63.58,24.30 63.65,24.88 63.72,25.54 63.80,26.28 63.87,27.09 63.94,27.99 64.01,28.96 64.09,30.00 64.16,31.13 64.23,32.33 64.31,33.61 64.38,34.97 64.45,36.41 64.52,37.92 64.60,39.51 64.67,41.18 64.74,42.93 64.82,44.75 64.89,46.65 64.96,48.63 65.03,50.69 65.11,52.82 65.18,55.03 65.25,57.32 65.33,59.69 65.40,62.13 65.47,64.65 65.54,67.25 65.62,69.93 65.69,72.68 65.76,75.52 65.84,78.43 65.91,81.41 65.98,84.48 66.05,87.62 66.13,90.84 66.20,94.14 66.27,97.52 66.35,100.97 66.42,104.50 66.49,108.11 66.56,111.80 66.64,115.56 66.71,119.40 66.78,115.56 66.86,111.80 66.93,108.11 67.00,104.50 67.07,100.97 67.15,97.52 67.22,94.14 67.29,90.84 67.37,87.62 67.44,84.48 67.51,81.41 67.58,78.43 67.66,75.52 67.73,72.68 67.80,69.93 67.88,67.25 67.95,64.65 68.02,62.13 68.09,59.69 68.17,57.32 68.24,55.03 68.31,52.82 68.39,50.69 68.46,48.63 68.53,46.65 68.60,44.75 68.68,42.93 68.75,41.18 68.82,39.51 68.90,37.92 68.97,36.41 69.04,34.97 69.11,33.61 69.19,32.33 69.26,31.13 69.33,30.00 69.41,28.96 69.48,27.99 69.55,27.09 69.62,26.28 69.70,25.54 69.77,24.88 69.84,24.30 69.92,23.80 69.99,23.37 70.06,23.02 70.13,22.75 70.21,22.56 70.28,22.44 70.35,22.40 70.43,22.44 70.50,22.56 70.57,22.75 70.64,23.02 70.72,23.37 70.79,23.80 70.86,24.30 70.94,24.88 71.01,25.54 71.08,26.28 71.15,27.09 71.23,27.99 71.30,28.96 71.37,30.00 71.45,31.13 71.52,32.33 71.59,33.61 71.66,34.97 71.74,36.41 71.81,37.92 71.88,39.51 71.96,41.18 72.03,42.93 72.10,44.75 72.17,46.65 72.25,48.63 72.32,50.69 72.39,52.82 72.47,55.03 72.54,57.32 72.61,59.69 72.68,62.13 72.76,64.65 72.83,67.25 72.90,69.93 72.98,72.68 73.05,75.52 73.12,78.43 73.19,81.41 73.27,84.48 73.34,87.62 73.41,90.84 73.49,94.14 73.56,97.52 73.63,100.97 73.70,104.50 73.78,108.11 73.85,111.80 73.92,115.56 73.99,119.40 74.07,115.56 74.14,111.80 74.21,108.11 74.29,104.50 74.36,100.97 74.43,97.52 74.50,94.14 74.58,90.84 74.65,87.62 74.72,84.48 74.80,81.41 74.87,78.43 74.94,75.52 75.01,72.68 75.09,69.93 75.16,67.25 75.23,64.65 75.31,62.13 75.38,59.69 75.45,57.32 75.52,55.03 75.60,52.82 75.67,50.69 75.74,48.63 75.82,46.65 75.89,44.75 75.96,42.93 76.03,41.18 76.11,39.51 76.18,37.92 76.25,36.41 76.33,34.97 76.40,33.61 76.47,32.33 76.54,31.13 76.62,30.00 76.69,28.96 76.76,27.99 76.84,27.09 76.91,26.28 76.98,25.54 77.05,24.88 77.13,24.30 77.20,23.80 77.27,23.37 77.35,23.02 77.42,22.75 77.49,22.56 77.56,22.44 77.64,22.40 77.71,22.44 77.78,22.56 77.86,22.75 77.93,23.02 78.00,23.37 78.07,23.80 78.15,24.30 78.22,24.88 78.29,25.54 78.37,26.28 78.44,27.09 78.51,27.99 78.58,28.96 78.66,30.00 78.73,31.13 78.80,32.33 78.88,33.61 78.95,34.97 79.02,36.41 79.09,37.92 79.17,39.51 79.24,41.18 79.31,42.93 79.39,44.75 79.46,46.65 79.53,48.63 79.60,50.69 79.68,52.82 79.75,55.03 79.82,57.32 79.90,59.69 79.97,62.13 80.04,64.65 80.11,67.25 80.19,69.93 80.26,72.68 80.33,75.52 80.41,78.43 80.48,81.41 80.55,84.48 80.62,87.62 80.70,90.84 80.77,94.14 80.84,97.52 80.92,100.97 80.99,104.50 81.06,108.11 81.13,111.80 81.21,115.56 81.28,119.40 81.35,115.56 81.43,111.80 81.50,108.11 81.57,104.50 81.64,100.97 81.72,97.52 81.79,94.14 81.86,90.84 81.94,87.62 82.01,84.48 82.08,81.41 82.15,78.43 82.23,75.52 82.30,72.68 82.37,69.93 82.45,67.25 82.52,64.65 82.59,62.13 82.66,59.69 82.74,57.32 82.81,55.03 82.88,52.82 82.96,50.69 83.03,48.63 83.10,46.65 83.17,44.75 83.25,42.93 83.32,41.18 83.39,39.51 83.47,37.92 83.54,36.41 83.61,34.97 83.68,33.61 83.76,32.33 83.83,31.13 83.90,30.00 83.98,28.96 84.05,27.99 84.12,27.09 84.19,26.28 84.27,25.54 84.34,24.88 84.41,24.30 84.49,23.80 84.56,23.37 84.63,23.02 84.70,22.75 84.78,22.56 84.85,22.44 84.92,22.40 85.00,22.44 85.07,22.56 85.14,22.75 85.21,23.02 85.29,23.37 85.36,23.80 85.43,24.30 85.51,24.88 85.58,25.54 85.65,26.28 85.72,27.09 85.80,27.99 85.87,28.96 85.94,30.00 86.02,31.13 86.09,32.33 86.16,33.61 86.23,34.97 86.31,36.41 86.38,37.92 86.45,39.51 86.53,41.18 86.60,42.93 86.67,44.75 86.74,46.65 86.82,48.63 86.89,50.69 86.96,52.82 87.04,55.03 87.11,57.32 87.18,59.69 87.25,62.13 87.33,64.65 87.40,67.25 87.47,69.93 87.55,72.68 87.62,75.52 87.69,78.43 87.76,81.41 87.84,84.48 87.91,87.62 87.98,90.84 88.06,94.14 88.13,97.52 88.20,100.97 88.27,104.50 88.35,108.11 88.42,111.80 88.49,115.56 88.56,119.40 88.64,115.56 88.71,111.80 88.78,108.11 88.86,104.50 88.93,100.97 89.00,97.52 89.07,94.14 89.15,90.84 89.22,87.62 89.29,84.48 89.37,81.41 89.44,78.43 89.51,75.52 89.58,72.68 89.66,69.93 89.73,67.25 89.80,64.65 89.88,62.13 89.95,59.69 90.02,57.32 90.09,55.03 90.17,52.82 90.24,50.69 90.31,48.63 90.39,46.65 90.46,44.75 90.53,42.93 90.60,41.18 90.68,39.51 90.75,37.92 90.82,36.41 90.90,34.97 90.97,33.61 91.04,32.33 91.11,31.13 91.19,30.00 91.26,28.96 91.33,27.99 91.41,27.09 91.48,26.28 91.55,25.54 91.62,24.88 91.70,24.30 91.77,23.80 91.84,23.37 91.92,23.02 91.99,22.75 92.06,22.56 92.13,22.44 92.21,22.40 92.28,22.44 92.35,22.56 92.43,22.75 92.50,23.02 92.57,23.37 92.64,23.80 92.72,24.30 92.79,24.88 92.86,25.54 92.94,26.28 93.01,27.09 93.08,27.99 93.15,28.96 93.23,30.00 93.30,31.13 93.37,32.33 93.45,33.61 93.52,34.97 93.59,36.41 93.66,37.92 93.74,39.51 93.81,41.18 93.88,42.93 93.96,44.75 94.03,46.65 94.10,48.63 94.17,50.69 94.25,52.82 94.32,55.03 94.39,57.32 94.47,59.69 94.54,62.13 94.61,64.65 94.68,67.25 94.76,69.93 94.83,72.68 94.90,75.52 94.98,78.43 95.05,81.41 95.12,84.48 95.19,87.62 95.27,90.84 95.34,94.14 95.41,97.52 95.49,100.97 95.56,104.50 95.63,108.11 95.70,111.80 95.78,115.56 95.85,119.40 95.92,115.56 96.00,111.80 96.07,108.11 96.14,104.50 96.21,100.97 96.29,97.52 96.36,94.14 96.43,90.84 96.51,87.62 96.58,84.48 96.65,81.41 96.72,78.43 96.80,75.52 96.87,72.68 96.94,69.93 97.02,67.25 97.09,64.65 97.16,62.13 97.23,59.69 97.31,57.32 97.38,55.03 97.45,52.82 97.53,50.69 97.60,48.63 97.67,46.65 97.74,44.75 97.82,42.93 97.89,41.18 97.96,39.51 98.04,37.92 98.11,36.41 98.18,34.97 98.25,33.61 98.33,32.33 98.40,31.13 98.47,30.00 98.55,28.96 98.62,27.99 98.69,27.09 98.76,26.28 98.84,25.54 98.91,24.88 98.98,24.30 99.06,23.80 99.13,23.37 99.20,23.02 99.27,22.75 99.35,22.56 99.42,22.44 99.49,22.40 99.57,22.44 99.64,22.56 99.71,22.75 99.78,23.02 99.86,23.37 99.93,23.80 100.00,24.30 100.08,24.88 100.15,25.54 100.22,26.28 100.29,27.09 100.37,27.99 100.44,28.96 100.51,30.00 100.59,31.13 100.66,32.33 100.73,33.61 100.80,34.97 100.88,36.41 100.95,37.92 101.02,39.51 101.10,41.18 101.17,42.93 101.24,44.75 101.31,46.65 101.39,48.63 101.46,50.69 101.53,52.82 101.61,55.03 101.68,57.32 101.75,59.69 101.82,62.13 101.90,64.65 101.97,67.25 102.04,69.93 102.12,72.68 102.19,75.52 102.26,78.43 102.33,81.41 102.41,84.48 102.48,87.62 102.55,90.84 102.63,94.14 102.70,97.52 102.77,100.97 102.84,104.50 102.92,108.11 102.99,111.80 103.06,115.56 103.13,119.40 103.21,115.56 103.28,111.80 103.35,108.11 103.43,104.50 103.50,100.97 103.57,97.52 103.64,94.14 103.72,90.84 103.79,87.62 103.86,84.48 103.94,81.41 104.01,78.43 104.08,75.52 104.15,72.68 104.23,69.93 104.30,67.25 104.37,64.65 104.45,62.13 104.52,59.69 104.59,57.32 104.66,55.03 104.74,52.82 104.81,50.69 104.88,48.63 104.96,46.65 105.03,44.75 105.10,42.93 105.17,41.18 105.25,39.51 105.32,37.92 105.39,36.41 105.47,34.97 105.54,33.61 105.61,32.33 105.68,31.13 105.76,30.00 105.83,28.96 105.90,27.99 105.98,27.09 106.05,26.28 106.12,25.54 106.19,24.88 106.27,24.30 106.34,23.80 106.41,23.37 106.49,23.02 106.56,22.75 106.63,22.56 106.70,22.44 106.78,22.40 106.85,22.44 106.92,22.56 107.00,22.75 107.07,23.02 107.14,23.37 107.21,23.80 107.29,24.30 107.36,24.88 107.43,25.54 107.51,26.28 107.58,27.09 107.65,27.99 107.72,28.96 107.80,30.00 107.87,31.13 107.94,32.33 108.02,33.61 108.09,34.97 108.16,36.41 108.23,37.92 108.31,39.51 108.38,41.18 108.45,42.93 108.53,44.75 108.60,46.65 108.67,48.63 108.74,50.69 108.82,52.82 108.89,55.03 108.96,57.32 109.04,59.69 109.11,62.13 109.18,64.65 109.25,67.25 109.33,69.93 109.40,72.68 109.47,75.52 109.55,78.43 109.62,81.41 109.69,84.48 109.76,87.62 109.84,90.84 109.91,94.14 109.98,97.52 110.06,100.97 110.13,104.50 110.20,108.11 110.27,111.80 110.35,115.56 110.42,119.40 110.49,115.56 110.57,111.80 110.64,108.11 110.71,104.50 110.78,100.97 110.86,97.52 110.93,94.14 111.00,90.84 111.08,87.62 111.15,84.48 111.22,81.41 111.29,78.43 111.37,75.52 111.44,72.68 111.51,69.93 111.59,67.25 111.66,64.65 111.73,62.13 111.80,59.69 111.88,57.32 111.95,55.03 112.02,52.82 112.10,50.69 112.17,48.63 112.24,46.65 112.31,44.75 112.39,42.93 112.46,41.18 112.53,39.51 112.61,37.92 112.68,36.41 112.75,34.97 112.82,33.61 112.90,32.33 112.97,31.13 113.04,30.00 113.12,28.96 113.19,27.99 113.26,27.09 113.33,26.28 113.41,25.54 113.48,24.88 113.55,24.30 113.63,23.80 113.70,23.37 113.77,23.02 113.84,22.75 113.92,22.56 113.99,22.44 114.06,22.40 114.14,22.44 114.21,22.56 114.28,22.75 114.35,23.02 114.43,23.37 114.50,23.80 114.57,24.30 114.65,24.88 114.72,25.54 114.79,26.28 114.86,27.09 114.94,27.99 115.01,28.96 115.08,30.00 115.16,31.13 115.23,32.33 115.30,33.61 115.37,34.97 115.45,36.41 115.52,37.92 115.59,39.51 115.67,41.18 115.74,42.93 115.81,44.75 115.88,46.65 115.96,48.63 116.03,50.69 116.10,52.82 116.18,55.03 116.25,57.32 116.32,59.69 116.39,62.13 116.47,64.65 116.54,67.25 116.61,69.93 116.69,72.68 116.76,75.52 116.83,78.43 116.90,81.41 116.98,84.48 117.05,87.62 117.12,90.84 117.20,94.14 117.27,97.52 117.34,100.97 117.41,104.50 117.49,108.11 117.56,111.80 117.63,115.56 117.70,119.40 117.78,115.56 117.85,111.80 117.92,108.11 118.00,104.50 118.07,100.97 118.14,97.52 118.21,94.14 118.29,90.84 118.36,87.62 118.43,84.48 118.51,81.41 118.58,78.43 118.65,75.52 118.72,72.68 118.80,69.93 118.87,67.25 118.94,64.65 119.02,62.13 119.09,59.69 119.16,57.32 119.23,55.03 119.31,52.82 119.38,50.69 119.45,48.63 119.53,46.65 119.60,44.75 119.67,42.93 119.74,41.18 119.82,39.51 119.89,37.92 119.96,36.41 120.04,34.97 120.11,33.61 120.18,32.33 120.25,31.13 120.33,30.00 120.40,28.96 120.47,27.99 120.55,27.09 120.62,26.28 120.69,25.54 120.76,24.88 120.84,24.30 120.91,23.80 120.98,23.37 121.06,23.02 121.13,22.75 121.20,22.56 121.27,22.44 121.35,22.40 121.42,22.44 121.49,22.56 121.57,22.75 121.64,23.02 121.71,23.37 121.78,23.80 121.86,24.30 121.93,24.88 122.00,25.54 122.08,26.28 122.15,27.09 122.22,27.99 122.29,28.96 122.37,30.00 122.44,31.13 122.51,32.33 122.59,33.61 122.66,34.97 122.73,36.41 122.80,37.92 122.88,39.51 122.95,41.18 123.02,42.93 123.10,44.75 123.17,46.65 123.24,48.63 123.31,50.69 123.39,52.82 123.46,55.03 123.53,57.32 123.61,59.69 123.68,62.13 123.75,64.65 123.82,67.25 123.90,69.93 123.97,72.68 124.04,75.52 124.12,78.43 124.19,81.41 124.26,84.48 124.33,87.62 124.41,90.84 124.48,94.14 124.55,97.52 124.63,100.97 124.70,104.50 124.77,108.11 124.84,111.80 124.92,115.56 124.99,119.40 125.06,115.56 125.14,111.80 125.21,108.11 125.28,104.50 125.35,100.97 125.43,97.52 125.50,94.14 125.57,90.84 125.65,87.62 125.72,84.48 125.79,81.41 125.86,78.43 125.94,75.52 126.01,72.68 126.08,69.93 126.16,67.25 126.23,64.65 126.30,62.13 126.37,59.69 126.45,57.32 126.52,55.03 126.59,52.82 126.67,50.69 126.74,48.63 126.81,46.65 126.88,44.75 126.96,42.93 127.03,41.18 127.10,39.51 127.18,37.92 127.25,36.41 127.32,34.97 127.39,33.61 127.47,32.33 127.54,31.13 127.61,30.00 127.69,28.96 127.76,27.99 127.83,27.09 127.90,26.28 127.98,25.54 128.05,24.88 128.12,24.30 128.20,23.80 128.27,23.37 128.34,23.02 128.41,22.75 128.49,22.56 128.56,22.44 128.63,22.40 128.71,22.44 128.78,22.56 128.85,22.75 128.92,23.02 129.00,23.37 129.07,23.80 129.14,24.30 129.22,24.88 129.29,25.54 129.36,26.28 129.43,27.09 129.51,27.99 129.58,28.96 129.65,30.00 129.73,31.13 129.80,32.33 129.87,33.61 129.94,34.97 130.02,36.41 130.09,37.92 130.16,39.51 130.24,41.18 130.31,42.93 130.38,44.75 130.45,46.65 130.53,48.63 130.60,50.69 130.67,52.82 130.75,55.03 130.82,57.32 130.89,59.69 130.96,62.13 131.04,64.65 131.11,67.25 131.18,69.93 131.26,72.68 131.33,75.52 131.40,78.43 131.47,81.41 131.55,84.48 131.62,87.62 131.69,90.84 131.77,94.14 131.84,97.52 131.91,100.97 131.98,104.50 132.06,108.11 132.13,111.80 132.20,115.56 132.28,119.40 132.35,115.56 132.42,111.80 132.49,108.11 132.57,104.50 132.64,100.97 132.71,97.52 132.78,94.14 132.86,90.84 132.93,87.62 133.00,84.48 133.08,81.41 133.15,78.43 133.22,75.52 133.29,72.68 133.37,69.93 133.44,67.25 133.51,64.65 133.59,62.13 133.66,59.69 133.73,57.32 133.80,55.03 133.88,52.82 133.95,50.69 134.02,48.63 134.10,46.65 134.17,44.75 134.24,42.93 134.31,41.18 134.39,39.51 134.46,37.92 134.53,36.41 134.61,34.97 134.68,33.61 134.75,32.33 134.82,31.13 134.90,30.00 134.97,28.96 135.04,27.99 135.12,27.09 135.19,26.28 135.26,25.54 135.33,24.88 135.41,24.30 135.48,23.80 135.55,23.37 135.63,23.02 135.70,22.75 135.77,22.56 135.84,22.44 135.92,22.40 135.99,22.44 136.06,22.56 136.14,22.75 136.21,23.02 136.28,23.37 136.35,23.80 136.43,24.30 136.50,24.88 136.57,25.54 136.65,26.28 136.72,27.09 136.79,27.99 136.86,28.96 136.94,30.00 137.01,31.13 137.08,32.33 137.16,33.61 137.23,34.97 137.30,36.41 137.37,37.92 137.45,39.51 137.52,41.18 137.59,42.93 137.67,44.75 137.74,46.65 137.81,48.63 137.88,50.69 137.96,52.82 138.03,55.03 138.10,57.32 138.18,59.69 138.25,62.13 138.32,64.65 138.39,67.25 138.47,69.93 138.54,72.68 138.61,75.52 138.69,78.43 138.76,81.41 138.83,84.48 138.90,87.62 138.98,90.84 139.05,94.14 139.12,97.52 139.20,100.97 139.27,104.50 139.34,108.11 139.41,111.80 139.49,115.56 139.56,119.40 139.63,115.56 139.71,111.80 139.78,108.11 139.85,104.50 139.92,100.97 140.00,97.52 140.07,94.14 140.14,90.84 140.22,87.62 140.29,84.48 140.36,81.41 140.43,78.43 140.51,75.52 140.58,72.68 140.65,69.93 140.73,67.25 140.80,64.65 140.87,62.13 140.94,59.69 141.02,57.32 141.09,55.03 141.16,52.82 141.24,50.69 141.31,48.63 141.38,46.65 141.45,44.75 141.53,42.93 141.60,41.18 141.67,39.51 141.75,37.92 141.82,36.41 141.89,34.97 141.96,33.61 142.04,32.33 142.11,31.13 142.18,30.00 142.26,28.96 142.33,27.99 142.40,27.09 142.47,26.28 142.55,25.54 142.62,24.88 142.69,24.30 142.77,23.80 142.84,23.37 142.91,23.02 142.98,22.75 143.06,22.56 143.13,22.44 143.20,22.40 143.28,22.44 143.35,22.56 143.42,22.75 143.49,23.02 143.57,23.37 143.64,23.80 143.71,24.30 143.79,24.88 143.86,25.54 143.93,26.28 144.00,27.09 144.08,27.99 144.15,28.96 144.22,30.00 144.30,31.13 144.37,32.33 144.44,33.61 144.51,34.97 144.59,36.41 144.66,37.92 144.73,39.51 144.81,41.18 144.88,42.93 144.95,44.75 145.02,46.65 145.10,48.63 145.17,50.69 145.24,52.82 145.32,55.03 145.39,57.32 145.46,59.69 145.53,62.13 145.61,64.65 145.68,67.25 145.75,69.93 145.83,72.68 145.90,75.52 145.97,78.43 146.04,81.41 146.12,84.48 146.19,87.62 146.26,90.84 146.34,94.14 146.41,97.52 146.48,100.97 146.55,104.50 146.63,108.11 146.70,111.80 146.77,115.56 146.84,119.40 146.92,115.56 146.99,111.80 147.06,108.11 147.14,104.50 147.21,100.97 147.28,97.52 147.35,94.14 147.43,90.84 147.50,87.62 147.57,84.48 147.65,81.41 147.72,78.43 147.79,75.52 147.86,72.68 147.94,69.93 148.01,67.25 148.08,64.65 148.16,62.13 148.23,59.69 148.30,57.32 148.37,55.03 148.45,52.82 148.52,50.69 148.59,48.63 148.67,46.65 148.74,44.75 148.81,42.93 148.88,41.18 148.96,39.51 149.03,37.92 149.10,36.41 149.18,34.97 149.25,33.61 149.32,32.33 149.39,31.13 149.47,30.00 149.54,28.96 149.61,27.99 149.69,27.09 149.76,26.28 149.83,25.54 149.90,24.88 149.98,24.30 150.05,23.80 150.12,23.37 150.20,23.02 150.27,22.75 150.34,22.56 150.41,22.44 150.49,22.40 150.56,22.44 150.63,22.56 150.71,22.75 150.78,23.02 150.85,23.37 150.92,23.80 151.00,24.30 151.07,24.88 151.14,25.54 151.22,26.28 151.29,27.09 151.36,27.99 151.43,28.96 151.51,30.00 151.58,31.13 151.65,32.33 151.73,33.61 151.80,34.97 151.87,36.41 151.94,37.92 152.02,39.51 152.09,41.18 152.16,42.93 152.24,44.75 152.31,46.65 152.38,48.63 152.45,50.69 152.53,52.82 152.60,55.03 152.67,57.32 152.75,59.69 152.82,62.13 152.89,64.65 152.96,67.25 153.04,69.93 153.11,72.68 153.18,75.52 153.26,78.43 153.33,81.41 153.40,84.48 153.47,87.62 153.55,90.84 153.62,94.14 153.69,97.52 153.77,100.97 153.84,104.50 153.91,108.11 153.98,111.80 154.06,115.56 154.13,119.40 154.20,115.56 154.28,111.80 154.35,108.11 154.42,104.50 154.49,100.97 154.57,97.52 154.64,94.14 154.71,90.84 154.79,87.62 154.86,84.48 154.93,81.41 155.00,78.43 155.08,75.52 155.15,72.68 155.22,69.93 155.30,67.25 155.37,64.65 155.44,62.13 155.51,59.69 155.59,57.32 155.66,55.03 155.73,52.82 155.81,50.69 155.88,48.63 155.95,46.65 156.02,44.75 156.10,42.93 156.17,41.18 156.24,39.51 156.32,37.92 156.39,36.41 156.46,34.97 156.53,33.61 156.61,32.33 156.68,31.13 156.75,30.00 156.83,28.96 156.90,27.99 156.97,27.09 157.04,26.28 157.12,25.54 157.19,24.88 157.26,24.30 157.34,23.80 157.41,23.37 157.48,23.02 157.55,22.75 157.63,22.56 157.70,22.44 157.77,22.40 157.85,22.44 157.92,22.56 157.99,22.75 158.06,23.02 158.14,23.37 158.21,23.80 158.28,24.30 158.36,24.88 158.43,25.54 158.50,26.28 158.57,27.09 158.65,27.99 158.72,28.96 158.79,30.00 158.87,31.13 158.94,32.33 159.01,33.61 159.08,34.97 159.16,36.41 159.23,37.92 159.30,39.51 159.38,41.18 159.45,42.93 159.52,44.75 159.59,46.65 159.67,48.63 159.74,50.69 159.81,52.82 159.89,55.03 159.96,57.32 160.03,59.69 160.10,62.13 160.18,64.65 160.25,67.25 160.32,69.93 160.40,72.68 160.47,75.52 160.54,78.43 160.61,81.41 160.69,84.48 160.76,87.62 160.83,90.84 160.91,94.14 160.98,97.52 161.05,100.97 161.12,104.50 161.20,108.11 161.27,111.80 161.34,115.56 161.41,119.40 161.49,115.56 161.56,111.80 161.63,108.11 161.71,104.50 161.78,100.97 161.85,97.52 161.92,94.14 162.00,90.84 162.07,87.62 162.14,84.48 162.22,81.41 162.29,78.43 162.36,75.52 162.43,72.68 162.51,69.93 162.58,67.25 162.65,64.65 162.73,62.13 162.80,59.69 162.87,57.32 162.94,55.03 163.02,52.82 163.09,50.69 163.16,48.63 163.24,46.65 163.31,44.75 163.38,42.93 163.45,41.18 163.53,39.51 163.60,37.92 163.67,36.41 163.75,34.97 163.82,33.61 163.89,32.33 163.96,31.13 164.04,30.00 164.11,28.96 164.18,27.99 164.26,27.09 164.33,26.28 164.40,25.54 164.47,24.88 164.55,24.30 164.62,23.80 164.69,23.37 164.77,23.02 164.84,22.75 164.91,22.56 164.98,22.44 165.06,22.40 165.13,22.44 165.20,22.56 165.28,22.75 165.35,23.02 165.42,23.37 165.49,23.80 165.57,24.30 165.64,24.88 165.71,25.54 165.79,26.28 165.86,27.09 165.93,27.99 166.00,28.96 166.08,30.00 166.15,31.13 166.22,32.33 166.30,33.61 166.37,34.97 166.44,36.41 166.51,37.92 166.59,39.51 166.66,41.18 166.73,42.93 166.81,44.75 166.88,46.65 166.95,48.63 167.02,50.69 167.10,52.82 167.17,55.03 167.24,57.32 167.32,59.69 167.39,62.13 167.46,64.65 167.53,67.25 167.61,69.93 167.68,72.68 167.75,75.52 167.83,78.43 167.90,81.41 167.97,84.48 168.04,87.62 168.12,90.84 168.19,94.14 168.26,97.52 168.34,100.97 168.41,104.50 168.48,108.11 168.55,111.80 168.63,115.56 168.70,119.40" fill="none" stroke="#383838" stroke-width="1.0" stroke-dasharray="2.3 1.7" stroke-linejoin="round"/>
<polyline points="213.00,119.40 213.11,114.70 213.21,110.13 213.32,105.66 213.43,101.32 213.54,97.09 213.64,92.98 213.75,88.98 213.86,85.10 213.97,81.34 214.07,77.69 214.18,74.16 214.29,70.75 214.40,67.45 214.50,64.28 214.61,61.21 214.72,58.27 214.83,55.44 214.93,52.72 215.04,50.13 215.15,47.65 215.26,45.28 215.36,43.04 215.47,40.91 215.58,38.89 215.69,37.00 215.79,35.22 215.90,33.55 216.01,32.00 216.12,30.57 216.22,29.26 216.33,28.06 216.44,26.98 216.54,26.02 216.65,25.17 216.76,24.44 216.87,23.83 216.97,23.33 217.08,22.95 217.19,22.68 217.30,22.53 217.40,22.50 217.51,22.59 217.62,22.79 217.73,23.11 217.83,23.54 217.94,24.10 218.05,24.76 218.16,25.55 218.26,26.45 218.37,27.47 218.48,28.60 218.59,29.86 218.69,31.22 218.80,32.71 218.91,34.31 219.02,36.03 219.12,37.86 219.23,39.81 219.34,41.88 219.41,40.61 219.48,39.39 219.55,38.24 219.61,37.14 219.68,36.10 219.75,35.12 219.82,34.19 219.89,33.33 219.96,32.52 220.03,31.77 220.10,31.08 220.17,30.45 220.24,29.88 220.31,29.37 220.38,28.91 220.44,28.51 220.51,28.17 220.58,27.89 220.65,27.67 220.72,27.50 220.79,27.40 220.86,27.35 220.93,27.36 221.00,27.43 221.07,27.55 221.14,27.74 221.20,27.98 221.27,28.29 221.34,28.65 221.41,29.06 221.48,29.54 221.55,30.08 221.62,30.67 221.69,31.32 221.76,32.03 221.83,32.80 221.90,33.63 221.97,34.52 222.03,35.46 222.10,36.46 222.17,37.52 222.24,38.64 222.31,39.82 222.38,41.05 222.45,42.35 222.52,43.70 222.59,45.11 222.66,46.58 222.73,48.11 222.80,49.69 222.86,51.34 222.93,53.04 223.00,54.80 223.07,56.62 223.14,58.50 223.21,60.43 223.28,62.43 223.35,64.48 223.42,66.59 223.53,63.42 223.63,60.38 223.74,57.45 223.85,54.63 223.96,51.94 224.07,49.36 224.18,46.90 224.29,44.56 224.40,42.34 224.50,40.24 224.61,38.25 224.72,36.38 224.83,34.63 224.94,33.00 225.05,31.48 225.16,30.09 225.26,28.81 225.37,27.65 225.48,26.60 225.59,25.68 225.70,24.87 225.81,24.18 225.92,23.61 226.03,23.16 226.13,22.82 226.24,22.61 226.35,22.51 226.46,22.53 226.57,22.66 226.68,22.92 226.79,23.29 226.89,23.78 227.00,24.39 227.11,25.11 227.22,25.96 227.33,26.92 227.44,28.00 227.55,29.20 227.66,30.52 227.76,31.95 227.87,33.50 227.98,35.17 228.09,36.96 228.20,38.87 228.31,40.89 228.42,43.03 228.52,45.29 228.63,47.67 228.74,50.16 228.85,52.78 228.96,55.51 229.07,58.36 229.18,61.33 229.29,64.41 229.39,67.62 229.50,70.94 229.61,74.38 229.72,77.93 229.83,81.61 229.99,77.47 230.16,73.49 230.32,69.65 230.49,65.97 230.66,62.43 230.82,59.04 230.99,55.81 231.15,52.72 231.32,49.79 231.48,47.00 231.65,44.37 231.81,41.88 231.98,39.54 232.14,37.36 232.31,35.32 232.48,33.44 232.64,31.70 232.81,30.11 232.97,28.68 233.14,27.39 233.30,26.25 233.47,25.27 233.63,24.43 233.80,23.75 233.96,23.21 234.13,22.82 234.30,22.59 234.46,22.50 234.63,22.56 234.79,22.78 234.96,23.14 235.12,23.65 235.29,24.32 235.45,25.13 235.62,26.09 235.78,27.21 235.95,28.47 236.12,29.88 236.28,31.45 236.45,33.16 236.61,35.02 236.78,37.04 236.94,39.20 237.11,41.51 237.27,43.98 237.44,46.59 237.60,49.35 237.77,52.27 237.94,55.33 238.10,58.54 238.27,61.90 238.43,65.42 238.60,69.08 238.76,72.89 238.93,76.86 239.09,80.97 239.26,85.23 239.42,89.64 239.59,94.21 239.70,90.23 239.81,86.37 239.91,82.63 240.02,79.00 240.13,75.48 240.23,72.07 240.34,68.78 240.45,65.60 240.56,62.53 240.66,59.57 240.77,56.73 240.88,54.01 240.99,51.39 241.09,48.89 241.20,46.50 241.31,44.23 241.42,42.07 241.52,40.02 241.63,38.08 241.74,36.26 241.85,34.55 241.95,32.96 242.06,31.48 242.17,30.11 242.28,28.85 242.38,27.71 242.49,26.68 242.60,25.76 242.71,24.96 242.81,24.27 242.92,23.69 243.03,23.23 243.14,22.88 243.24,22.64 243.35,22.52 243.46,22.51 243.56,22.61 243.67,22.83 243.78,23.16 243.89,23.60 243.99,24.15 244.10,24.82 244.21,25.60 244.32,26.50 244.42,27.51 244.53,28.63 244.64,29.86 244.75,31.21 244.85,32.67 244.96,34.25 245.07,35.93 245.18,37.73 245.28,39.65 245.39,41.68 245.50,43.82 245.61,46.07 245.71,48.44 245.82,50.92 245.93,53.51 246.00,51.85 246.06,50.24 246.13,48.69 246.20,47.19 246.27,45.75 246.34,44.36 246.40,43.03 246.47,41.75 246.54,40.52 246.61,39.35 246.68,38.24 246.74,37.18 246.81,36.17 246.88,35.22 246.95,34.32 247.01,33.47 247.08,32.68 247.15,31.95 247.22,31.27 247.29,30.64 247.35,30.07 247.42,29.55 247.49,29.09 247.56,28.68 247.63,28.33 247.69,28.03 247.76,27.78 247.83,27.59 247.90,27.45 247.97,27.37 248.03,27.35 248.10,27.37 248.17,27.45 248.24,27.59 248.31,27.78 248.37,28.02 248.44,28.32 248.51,28.67 248.58,29.08 248.64,29.54 248.71,30.06 248.78,30.63 248.85,31.26 248.92,31.94 248.98,32.67 249.05,33.46 249.12,34.30 249.19,35.20 249.26,36.15 249.32,37.16 249.39,38.22 249.46,39.33 249.53,40.50 249.60,41.73 249.66,43.01 249.73,44.34 249.80,45.73 249.87,47.17 249.93,48.66 250.04,46.28 250.15,44.01 250.26,41.85 250.37,39.81 250.48,37.88 250.59,36.06 250.70,34.36 250.81,32.77 250.92,31.30 251.03,29.94 251.14,28.70 251.25,27.57 251.36,26.55 251.47,25.64 251.58,24.85 251.69,24.18 251.80,23.62 251.91,23.17 252.02,22.84 252.13,22.62 252.24,22.51 252.35,22.52 252.46,22.64 252.57,22.88 252.68,23.23 252.79,23.69 252.90,24.27 253.01,24.96 253.12,25.77 253.23,26.69 253.34,27.72 253.45,28.87 253.56,30.13 253.67,31.50 253.78,32.99 253.89,34.60 254.00,36.31 254.11,38.15 254.22,40.09 254.33,42.15 254.44,44.32 254.55,46.61 254.66,49.01 254.77,51.53 254.88,54.16 254.99,56.90 255.10,59.76 255.21,62.73 255.32,65.81 255.43,69.01 255.54,72.32 255.65,75.75 255.76,79.29 255.87,82.94 255.98,86.71 256.09,90.60 256.20,94.59 256.31,98.70 256.42,102.93 256.58,98.11 256.75,93.44 256.91,88.91 257.08,84.54 257.24,80.32 257.40,76.24 257.57,72.31 257.73,68.54 257.90,64.91 258.06,61.43 258.23,58.10 258.39,54.91 258.55,51.88 258.72,49.00 258.88,46.26 259.05,43.68 259.21,41.24 259.37,38.95 259.54,36.81 259.70,34.82 259.87,32.98 260.03,31.29 260.20,29.74 260.36,28.35 260.52,27.10 260.69,26.01 260.85,25.06 261.02,24.26 261.18,23.61 261.35,23.11 261.51,22.76 261.67,22.56 261.84,22.50 262.00,22.60 262.17,22.84 262.33,23.23 262.49,23.77 262.66,24.46 262.82,25.30 262.99,26.29 263.15,27.43 263.32,28.72 263.48,30.15 263.64,31.74 263.81,33.47 263.97,35.35 264.14,37.38 264.30,39.56 264.47,41.89 264.63,44.37 264.79,47.00 264.96,49.77 265.12,52.70 265.29,55.77 265.45,58.99 265.61,62.36 265.78,65.88 265.94,69.55 266.11,73.37 266.22,70.02 266.34,66.79 266.46,63.66 266.57,60.66 266.69,57.76 266.80,54.98 266.92,52.32 267.04,49.76 267.15,47.33 267.27,45.00 267.38,42.79 267.50,40.70 267.62,38.72 267.73,36.85 267.85,35.10 267.96,33.46 268.08,31.94 268.20,30.53 268.31,29.23 268.43,28.05 268.55,26.98 268.66,26.02 268.78,25.18 268.89,24.46 269.01,23.85 269.13,23.35 269.24,22.97 269.36,22.70 269.47,22.54 269.59,22.50 269.71,22.57 269.82,22.76 269.94,23.06 270.05,23.48 270.17,24.01 270.29,24.65 270.40,25.41 270.52,26.28 270.63,27.27 270.75,28.37 270.87,29.58 270.98,30.91 271.10,32.35 271.21,33.91 271.33,35.58 271.45,37.36 271.56,39.26 271.68,41.28 271.79,43.40 271.91,45.64 272.03,48.00 272.14,50.47 272.26,53.05 272.38,55.75 272.49,58.56 272.61,61.49 272.72,64.53 272.84,67.68 272.96,70.95 273.13,67.19 273.30,63.59 273.47,60.13 273.65,56.83 273.82,53.68 273.99,50.68 274.17,47.83 274.34,45.13 274.51,42.59 274.68,40.20 274.86,37.96 275.03,35.87 275.20,33.93 275.38,32.14 275.55,30.51 275.72,29.03 275.89,27.69 276.07,26.52 276.24,25.49 276.41,24.61 276.59,23.89 276.76,23.31 276.93,22.89 277.10,22.62 277.28,22.51 277.45,22.54 277.62,22.73 277.80,23.06 277.97,23.55 278.14,24.19 278.31,24.98 278.49,25.93 278.66,27.02 278.83,28.27 279.01,29.67 279.18,31.22 279.35,32.92 279.52,34.78 279.70,36.78 279.87,38.94 280.04,41.25 280.22,43.71 280.39,46.32 280.56,49.08 280.73,52.00 280.91,55.07 281.08,58.29 281.25,61.66 281.43,65.18 281.60,68.85 281.77,72.68 281.94,76.65 282.12,80.78 282.29,85.06 282.46,89.50 282.64,94.08 282.81,98.82 282.98,103.70 283.15,108.74 283.27,104.33 283.38,100.03 283.50,95.84 283.61,91.78 283.72,87.83 283.84,83.99 283.95,80.27 284.06,76.67 284.18,73.18 284.29,69.81 284.40,66.56 284.52,63.42 284.63,60.40 284.74,57.49 284.86,54.70 284.97,52.02 285.09,49.46 285.20,47.02 285.31,44.69 285.43,42.48 285.54,40.39 285.65,38.41 285.77,36.55 285.88,34.80 285.99,33.17 286.11,31.65 286.22,30.25 286.34,28.97 286.45,27.80 286.56,26.75 286.68,25.82 286.79,25.00 286.90,24.29 287.02,23.71 287.13,23.24 287.24,22.88 287.36,22.64 287.47,22.52 287.58,22.51 287.70,22.62 287.81,22.84 287.93,23.19 288.04,23.64 288.15,24.21 288.27,24.90 288.38,25.71 288.49,26.63 288.61,27.67 288.72,28.82 288.83,30.09 288.95,31.47 289.06,32.97 289.18,34.59 289.29,36.32 289.40,38.17 289.52,40.14 289.63,42.22 289.74,44.41 289.86,46.72 289.92,45.15 289.98,43.63 290.04,42.17 290.10,40.78 290.16,39.44 290.22,38.17 290.28,36.96 290.34,35.80 290.40,34.71 290.46,33.68 290.52,32.71 290.58,31.80 290.64,30.95 290.70,30.16 290.76,29.43 290.82,28.76 290.89,28.15 290.95,27.61 291.01,27.12 291.07,26.70 291.13,26.33 291.19,26.03 291.25,25.78 291.31,25.60 291.37,25.48 291.43,25.42 291.49,25.41 291.55,25.47 291.61,25.59 291.67,25.77 291.73,26.02 291.79,26.32 291.85,26.68 291.91,27.10 291.97,27.59 292.03,28.13 292.10,28.74 292.16,29.40 292.22,30.13 292.28,30.91 292.34,31.76 292.40,32.67 292.46,33.64 292.52,34.67 292.58,35.76 292.64,36.91 292.70,38.12 292.76,39.39 292.82,40.72 292.88,42.12 292.94,43.57 293.00,45.09 293.06,46.66 293.12,48.30 293.18,49.99 293.24,51.75 293.31,53.57 293.37,55.45 293.43,57.38 293.53,54.62 293.64,51.97 293.74,49.44 293.85,47.02 293.96,44.71 294.06,42.52 294.17,40.44 294.28,38.47 294.38,36.62 294.49,34.89 294.59,33.26 294.70,31.75 294.81,30.36 294.91,29.08 295.02,27.91 295.13,26.86 295.23,25.92 295.34,25.09 295.44,24.38 295.55,23.78 295.66,23.30 295.76,22.93 295.87,22.67 295.97,22.53 296.08,22.50 296.19,22.59 296.29,22.79 296.40,23.10 296.51,23.53 296.61,24.07 296.72,24.73 296.82,25.50 296.93,26.38 297.04,27.38 297.14,28.49 297.25,29.72 297.36,31.06 297.46,32.51 297.57,34.08 297.67,35.76 297.78,37.56 297.89,39.47 297.99,41.49 298.10,43.63 298.20,45.88 298.31,48.24 298.42,50.72 298.52,53.32 298.63,56.02 298.74,58.84 298.84,61.78 298.95,64.83 299.05,67.99 299.16,71.27 299.27,74.66 299.37,78.16 299.48,81.78 299.59,85.51 299.69,89.36 299.86,84.92 300.04,80.63 300.21,76.50 300.38,72.52 300.56,68.69 300.73,65.01 300.90,61.48 301.07,58.11 301.25,54.89 301.42,51.82 301.59,48.91 301.77,46.15 301.94,43.54 302.11,41.08 302.28,38.78 302.46,36.62 302.63,34.62 302.80,32.78 302.98,31.08 303.15,29.54 303.32,28.15 303.49,26.91 303.67,25.83 303.84,24.90 304.01,24.12 304.19,23.49 304.36,23.02 304.53,22.70 304.70,22.53 304.88,22.51 305.05,22.65 305.22,22.94 305.40,23.38 305.57,23.97 305.74,24.72 305.91,25.62 306.09,26.67 306.26,27.87 306.43,29.23 306.61,30.74 306.78,32.40 306.95,34.21 307.12,36.18 307.30,38.30 307.47,40.57 307.64,42.99 307.82,45.57 307.99,48.30 308.16,51.18 308.33,54.22 308.51,57.40 308.68,60.74 308.85,64.24 309.03,67.88 309.20,71.68 309.37,75.63 309.54,79.73 309.72,83.98 309.89,88.39 310.00,84.56 310.11,80.85 310.22,77.24 310.33,73.76 310.43,70.39 310.54,67.13 310.65,63.99 310.76,60.96 310.87,58.05 310.98,55.25 311.09,52.56 311.19,50.00 311.30,47.54 311.41,45.20 311.52,42.98 311.63,40.87 311.74,38.87 311.85,36.99 311.95,35.23 312.06,33.57 312.17,32.04 312.28,30.62 312.39,29.31 312.50,28.12 312.61,27.04 312.72,26.08 312.82,25.23 312.93,24.49 313.04,23.87 313.15,23.37 313.26,22.98 313.37,22.71 313.48,22.55 313.58,22.50 313.69,22.57 313.80,22.75 313.91,23.05 314.02,23.47 314.13,23.99 314.24,24.64 314.35,25.39 314.45,26.27 314.56,27.25 314.67,28.36 314.78,29.57 314.89,30.90 315.00,32.35 315.11,33.91 315.21,35.58 315.32,37.37 315.43,39.28 315.54,41.30 315.65,43.43 315.76,45.68 315.87,48.04 315.98,50.52 316.08,53.11 316.19,55.82 316.30,58.64 316.37,57.06 316.43,55.53 316.50,54.04 316.56,52.59 316.63,51.19 316.69,49.84 316.76,48.53 316.82,47.26 316.89,46.05 316.96,44.87 317.02,43.74 317.09,42.66 317.15,41.62 317.22,40.63 317.28,39.69 317.35,38.78 317.41,37.93 317.48,37.12 317.54,36.35 317.61,35.63 317.68,34.95 317.74,34.32 317.81,33.74 317.87,33.20 317.94,32.71 318.00,32.26 318.07,31.85 318.13,31.50 318.20,31.18 318.26,30.92 318.33,30.69 318.40,30.52 318.46,30.38 318.53,30.30 318.59,30.26 318.66,30.26 318.72,30.31 318.79,30.40 318.85,30.54 318.92,30.73 318.98,30.96 319.05,31.23 319.12,31.56 319.18,31.92 319.25,32.33 319.31,32.79 319.38,33.29 319.44,33.84 319.51,34.43 319.57,35.07 319.64,35.75 319.70,36.48 319.77,37.26 319.84,38.07 319.90,38.94 319.97,39.85 320.03,40.80 320.10,41.80 320.16,42.85 320.27,40.78 320.38,38.82 320.48,36.97 320.59,35.23 320.70,33.60 320.81,32.08 320.91,30.68 321.02,29.39 321.13,28.20 321.24,27.13 321.34,26.17 321.45,25.32 321.56,24.59 321.67,23.96 321.77,23.45 321.88,23.04 321.99,22.75 322.10,22.57 322.20,22.50 322.31,22.54 322.42,22.70 322.53,22.96 322.63,23.34 322.74,23.82 322.85,24.42 322.96,25.13 323.06,25.95 323.17,26.88 323.28,27.93 323.39,29.08 323.49,30.35 323.60,31.72 323.71,33.21 323.81,34.81 323.92,36.52 324.03,38.35 324.14,40.28 324.24,42.32 324.35,44.48 324.46,46.75 324.57,49.13 324.67,51.62 324.78,54.22 324.89,56.93 325.00,59.75 325.10,62.69 325.21,65.73 325.32,68.89 325.43,72.16 325.53,75.54 325.64,79.03 325.75,82.64 325.86,86.35 325.96,90.17 326.07,94.11 326.18,98.16 326.29,102.32 326.39,106.59 326.50,110.97 326.62,107.02 326.74,103.17 326.86,99.40 326.97,95.72 327.09,92.14 327.21,88.64 327.33,85.24 327.45,81.92 327.57,78.69 327.69,75.56 327.80,72.51 327.92,69.55 328.04,66.69 328.16,63.91 328.28,61.23 328.40,58.63 328.52,56.13 328.63,53.71 328.75,51.38 328.87,49.15 328.99,47.00 329.11,44.95 329.23,42.98 329.35,41.11 329.46,39.32 329.58,37.63 329.70,36.02 329.82,34.50 329.94,33.08 330.06,31.74 330.17,30.50 330.29,29.34 330.41,28.28 330.53,27.30 330.65,26.42 330.77,25.62 330.89,24.92 331.00,24.30 331.12,23.78 331.24,23.34 331.36,23.00 331.48,22.74 331.60,22.58 331.72,22.50 331.83,22.52 331.95,22.63 332.07,22.82 332.19,23.11 332.31,23.48 332.43,23.95 332.55,24.50 332.66,25.15 332.78,25.88 332.90,26.71 333.02,27.63 333.14,28.63 333.26,29.73 333.38,30.91 333.49,32.19 333.54,31.50 333.59,30.85 333.64,30.25 333.69,29.69 333.74,29.17 333.79,28.70 333.84,28.27 333.89,27.89 333.94,27.55 333.99,27.25 334.04,26.99 334.09,26.78 334.14,26.62 334.19,26.49 334.23,26.41 334.28,26.38 334.33,26.39 334.38,26.44 334.43,26.53 334.48,26.67 334.53,26.85 334.58,27.08 334.63,27.35 334.68,27.66 334.73,28.02 334.78,28.42 334.83,28.86 334.88,29.35 334.93,29.88 334.98,30.46 335.02,31.07 335.07,31.74 335.12,32.44 335.17,33.19 335.22,33.98 335.27,34.82 335.32,35.70 335.37,36.62 335.42,37.59 335.47,38.60 335.52,39.66 335.57,40.76 335.62,41.90 335.67,43.08 335.72,44.31 335.77,45.59 335.82,46.90 335.86,48.26 335.91,49.67 335.96,51.11 336.01,52.61 336.06,54.14 336.11,55.72 336.16,57.34 336.21,59.01 336.26,60.72 336.31,62.47 336.36,64.26 336.41,66.10 336.52,62.98 336.63,59.97 336.74,57.07 336.85,54.30 336.96,51.63 337.07,49.09 337.19,46.66 337.30,44.35 337.41,42.15 337.52,40.07 337.63,38.11 337.74,36.26 337.85,34.53 337.96,32.91 338.07,31.42 338.19,30.03 338.30,28.77 338.41,27.62 338.52,26.59 338.63,25.67 338.74,24.87 338.85,24.18 338.96,23.62 339.07,23.17 339.19,22.83 339.30,22.61 339.41,22.51 339.52,22.52 339.63,22.65 339.74,22.90 339.85,23.26 339.96,23.74 340.08,24.34 340.19,25.05 340.30,25.88 340.41,26.82 340.52,27.88 340.63,29.06 340.74,30.35 340.85,31.76 340.96,33.29 341.08,34.93 341.19,36.69 341.30,38.56 341.41,40.55 341.52,42.66 341.63,44.88 341.74,47.22 341.85,49.68 341.96,52.25 342.08,54.94 342.19,57.75 342.30,60.67 342.41,63.71 342.52,66.86 342.63,70.13 342.74,73.52 342.85,77.02 342.96,80.64 343.02,78.19 343.07,75.79 343.13,73.45 343.18,71.17 343.24,68.94 343.29,66.76 343.34,64.65 343.40,62.58 343.45,60.58 343.51,58.63 343.56,56.73 343.62,54.89 343.67,53.11 343.73,51.38 343.78,49.71 343.83,48.09 343.89,46.53 343.94,45.02 344.00,43.57 344.05,42.18 344.11,40.84 344.16,39.56 344.21,38.33 344.27,37.16 344.32,36.04 344.38,34.98 344.43,33.98 344.49,33.03 344.54,32.13 344.59,31.30 344.65,30.51 344.70,29.79 344.76,29.12 344.81,28.50 344.87,27.94 344.92,27.44 344.97,26.99 345.03,26.60 345.08,26.26 345.14,25.98 345.19,25.76 345.25,25.59 345.30,25.47 345.35,25.42 345.41,25.41 345.46,25.47 345.52,25.57 345.57,25.74 345.63,25.96 345.68,26.23 345.74,26.57 345.79,26.95 345.84,27.40 345.90,27.89 345.95,28.45 346.01,29.06 346.06,29.72 346.12,30.44 346.17,31.22 346.30,30.10 346.43,29.05 346.56,28.08 346.69,27.19 346.82,26.37 346.96,25.64 347.09,24.98 347.22,24.40 347.35,23.89 347.48,23.47 347.61,23.12 347.74,22.85 347.87,22.65 348.00,22.54 348.13,22.50 348.26,22.54 348.39,22.66 348.53,22.85 348.66,23.12 348.79,23.47 348.92,23.90 349.05,24.40 349.18,24.98 349.31,25.64 349.44,26.38 349.57,27.20 349.70,28.09 349.83,29.06 349.97,30.11 350.10,31.23 350.23,32.43 350.36,33.71 350.49,35.07 350.62,36.51 350.75,38.02 350.88,39.61 351.01,41.28 351.14,43.02 351.27,44.85 351.41,46.75 351.54,48.73 351.67,50.78 351.80,52.91 351.93,55.13 352.06,57.41 352.19,59.78 352.32,62.22 352.45,64.75 352.58,67.34 352.71,70.02 352.84,72.77 352.98,75.61 353.11,78.51 353.24,81.50 353.37,84.57 353.50,87.71 353.63,90.93 353.76,94.22 353.89,97.60 353.97,93.81 354.05,90.12 354.14,86.52 354.22,83.03 354.30,79.63 354.38,76.33 354.46,73.13 354.54,70.03 354.63,67.02 354.71,64.11 354.79,61.31 354.87,58.60 354.95,55.98 355.03,53.47 355.11,51.05 355.20,48.73 355.28,46.51 355.36,44.39 355.44,42.37 355.52,40.44 355.60,38.62 355.68,36.89 355.77,35.26 355.85,33.72 355.93,32.29 356.01,30.95 356.09,29.71 356.17,28.57 356.26,27.53 356.34,26.58 356.42,25.74 356.50,24.99 356.58,24.34 356.66,23.79 356.74,23.33 356.83,22.98 356.91,22.72 356.99,22.56 357.07,22.50 357.15,22.54 357.23,22.67 357.31,22.91 357.40,23.24 357.48,23.67 357.56,24.19 357.64,24.82 357.72,25.54 357.80,26.36 357.89,27.28 357.97,28.30 358.05,29.42 358.13,30.63 358.21,31.95 358.29,33.36 358.37,34.86 358.46,36.47 358.54,38.18 358.62,39.98 358.70,41.88" fill="none" stroke="#a29ee8" stroke-width="0.9" stroke-linejoin="round"/>
<polyline points="213.00,119.40 213.11,114.70 213.21,110.13 213.32,105.66 213.43,101.32 213.54,97.09 213.64,92.98 213.75,88.98 213.86,85.10 213.97,81.34 214.07,77.69 214.18,74.16 214.29,70.75 214.40,67.45 214.50,64.28 214.61,61.21 214.72,58.27 214.83,55.44 214.93,52.72 215.04,50.13 215.15,47.65 215.26,45.28 215.36,43.04 215.47,40.91 215.58,38.89 215.69,37.00 215.79,35.22 215.90,33.55 216.01,32.00 216.12,30.57 216.22,29.26 216.33,28.06 216.44,26.98 216.54,26.02 216.65,25.17 216.76,24.44 216.87,23.83 216.97,23.33 217.08,22.95 217.19,22.68 217.30,22.53 217.40,22.50 217.51,22.59 217.62,22.79 217.73,23.11 217.83,23.54 217.94,24.10 218.05,24.76 218.16,25.55 218.26,26.45 218.37,27.47 218.48,28.60 218.59,29.86 218.69,31.22 218.80,32.71 218.91,34.31 219.02,36.03 219.12,37.86 219.23,39.81 219.34,41.88 219.41,40.61 219.48,39.39 219.55,38.24 219.61,37.14 219.68,36.10 219.75,35.12 219.82,34.19 219.89,33.33 219.96,32.52 220.03,31.77 220.10,31.08 220.17,30.45 220.24,29.88 220.31,29.37 220.38,28.91 220.44,28.51 220.51,28.17 220.58,27.89 220.65,27.67 220.72,27.50 220.79,27.40 220.86,27.35 220.93,27.36 221.00,27.43 221.07,27.55 221.14,27.74 221.20,27.98 221.27,28.29 221.34,28.65 221.41,29.06 221.48,29.54 221.55,30.08 221.62,30.67 221.69,31.32 221.76,32.03 221.83,32.80 221.90,33.63 221.97,34.52 222.03,35.46 222.10,36.46 222.17,37.52 222.24,38.64 222.31,39.82 222.38,41.05 222.45,42.35 222.52,43.70 222.59,45.11 222.66,46.58 222.73,48.11 222.80,49.69 222.86,51.34 222.93,53.04 223.00,54.80 223.07,56.62 223.14,58.50 223.21,60.43 223.28,62.43 223.35,64.48 223.42,66.59 223.53,63.42 223.63,60.38 223.74,57.45 223.85,54.63 223.96,51.94 224.07,49.36 224.18,46.90 224.29,44.56 224.40,42.34 224.50,40.24 224.61,38.25 224.72,36.38 224.83,34.63 224.94,33.00 225.05,31.48 225.16,30.09 225.26,28.81 225.37,27.65 225.48,26.60 225.59,25.68 225.70,24.87 225.81,24.18 225.92,23.61 226.03,23.16 226.13,22.82 226.24,22.61 226.35,22.51 226.46,22.53 226.57,22.66 226.68,22.92 226.79,23.29 226.89,23.78 227.00,24.39 227.11,25.11 227.22,25.96 227.33,26.92 227.44,28.00 227.55,29.20 227.66,30.52 227.76,31.95 227.87,33.50 227.98,35.17 228.09,36.96 228.20,38.87 228.31,40.89 228.42,43.03 228.52,45.29 228.63,47.67 228.74,50.16 228.85,52.78 228.96,55.51 229.07,58.36 229.18,61.33 229.29,64.41 229.39,67.62 229.50,70.94 229.61,74.38 229.72,77.93 229.83,81.61 229.99,77.47 230.16,73.49 230.32,69.65 230.49,65.97 230.66,62.43 230.82,59.04 230.99,55.81 231.15,52.72 231.32,49.79 231.48,47.00 231.65,44.37 231.81,41.88 231.98,39.54 232.14,37.36 232.31,35.32 232.48,33.44 232.64,31.70 232.81,30.11 232.97,28.68 233.14,27.39 233.30,26.25 233.47,25.27 233.63,24.43 233.80,23.75 233.96,23.21 234.13,22.82 234.30,22.59 234.46,22.50 234.63,22.56 234.79,22.78 234.96,23.14 235.12,23.65 235.29,24.32 235.45,25.13 235.62,26.09 235.78,27.21 235.95,28.47 236.12,29.88 236.28,31.45 236.45,33.16 236.61,35.02 236.78,37.04 236.94,39.20 237.11,41.51 237.27,43.98 237.44,46.59 237.60,49.35 237.77,52.27 237.94,55.33 238.10,58.54 238.27,61.90 238.43,65.42 238.60,69.08 238.76,72.89 238.93,76.86 239.09,80.97 239.26,85.23 239.42,89.64 239.59,94.21 239.70,90.23 239.81,86.37 239.91,82.63 240.02,79.00 240.13,75.48 240.23,72.07 240.34,68.78 240.45,65.60 240.56,62.53 240.66,59.57 240.77,56.73 240.88,54.01 240.99,51.39 241.09,48.89 241.20,46.50 241.31,44.23 241.42,42.07 241.52,40.02 241.63,38.08 241.74,36.26 241.85,34.55 241.95,32.96 242.06,31.48 242.17,30.11 242.28,28.85 242.38,27.71 242.49,26.68 242.60,25.76 242.71,24.96 242.81,24.27 242.92,23.69 243.03,23.23 243.14,22.88 243.24,22.64 243.35,22.52 243.46,22.51 243.56,22.61 243.67,22.83 243.78,23.16 243.89,23.60 243.99,24.15 244.10,24.82 244.21,25.60 244.32,26.50 244.42,27.51 244.53,28.63 244.64,29.86 244.75,31.21 244.85,32.67 244.96,34.25 245.07,35.93 245.18,37.73 245.28,39.65 245.39,41.68 245.50,43.82 245.61,46.07 245.71,48.44 245.82,50.92 245.93,53.51 246.00,51.85 246.06,50.24 246.13,48.69 246.20,47.19 246.27,45.75 246.34,44.36 246.40,43.03 246.47,41.75 246.54,40.52 246.61,39.35 246.68,38.24 246.74,37.18 246.81,36.17 246.88,35.22 246.95,34.32 247.01,33.47 247.08,32.68 247.15,31.95 247.22,31.27 247.29,30.64 247.35,30.07 247.42,29.55 247.49,29.09 247.56,28.68 247.63,28.33 247.69,28.03 247.76,27.78 247.83,27.59 247.90,27.45 247.97,27.37 248.03,27.35 248.10,27.37 248.17,27.45 248.24,27.59 248.31,27.78 248.37,28.02 248.44,28.32 248.51,28.67 248.58,29.08 248.64,29.54 248.71,30.06 248.78,30.63 248.85,31.26 248.92,31.94 248.98,32.67 249.05,33.46 249.12,34.30 249.19,35.20 249.26,36.15 249.32,37.16 249.39,38.22 249.46,39.33 249.53,40.50 249.60,41.73 249.66,43.01 249.73,44.34 249.80,45.73 249.87,47.17 249.93,48.66 250.04,46.28 250.15,44.01 250.26,41.85 250.37,39.81 250.48,37.88 250.59,36.06 250.70,34.36 250.81,32.77 250.92,31.30 251.03,29.94 251.14,28.70 251.25,27.57 251.36,26.55 251.47,25.64 251.58,24.85 251.69,24.18 251.80,23.62 251.91,23.17 252.02,22.84 252.13,22.62 252.24,22.51 252.35,22.52 252.46,22.64 252.57,22.88 252.68,23.23 252.79,23.69 252.90,24.27 253.01,24.96 253.12,25.77 253.23,26.69 253.34,27.72 253.45,28.87 253.56,30.13 253.67,31.50 253.78,32.99 253.89,34.60 254.00,36.31 254.11,38.15 254.22,40.09 254.33,42.15 254.44,44.32 254.55,46.61 254.66,49.01 254.77,51.53 254.88,54.16 254.99,56.90 255.10,59.76 255.21,62.73 255.32,65.81 255.43,69.01 255.54,72.32 255.65,75.75 255.76,79.29 255.87,82.94 255.98,86.71 256.09,90.60 256.20,94.59 256.31,98.70 256.42,102.93 256.58,98.11 256.75,93.44 256.91,88.91 257.08,84.54 257.24,80.32 257.40,76.24 257.57,72.31 257.73,68.54 257.90,64.91 258.06,61.43 258.23,58.10 258.39,54.91 258.55,51.88 258.72,49.00 258.88,46.26 259.05,43.68 259.21,41.24 259.37,38.95 259.54,36.81 259.70,34.82 259.87,32.98 260.03,31.29 260.20,29.74 260.36,28.35 260.52,27.10 260.69,26.01 260.85,25.06 261.02,24.26 261.18,23.61 261.35,23.11 261.51,22.76 261.67,22.56 261.84,22.50 262.00,22.60 262.17,22.84 262.33,23.23 262.49,23.77 262.66,24.46 262.82,25.30 262.99,26.29 263.15,27.43 263.32,28.72 263.48,30.15 263.64,31.74 263.81,33.47 263.97,35.35 264.14,37.38 264.30,39.56 264.47,41.89 264.63,44.37 264.79,47.00 264.96,49.77 265.12,52.70 265.29,55.77 265.45,58.99 265.61,62.36 265.78,65.88 265.94,69.55 266.11,73.37 266.22,70.02 266.34,66.79 266.46,63.66 266.57,60.66 266.69,57.76 266.80,54.98 266.92,52.32 267.04,49.76 267.15,47.33 267.27,45.00 267.38,42.79 267.50,40.70 267.62,38.72 267.73,36.85 267.85,35.10 267.96,33.46 268.08,31.94 268.20,30.53 268.31,29.23 268.43,28.05 268.55,26.98 268.66,26.02 268.78,25.18 268.89,24.46 269.01,23.85 269.13,23.35 269.24,22.97 269.36,22.70 269.47,22.54 269.59,22.50 269.71,22.57 269.82,22.76 269.94,23.06 270.05,23.48 270.17,24.01 270.29,24.65 270.40,25.41 270.52,26.28 270.63,27.27 270.75,28.37 270.87,29.58 270.98,30.91 271.10,32.35 271.21,33.91 271.33,35.58 271.45,37.36 271.56,39.26 271.68,41.28 271.79,43.40 271.91,45.64 272.03,48.00 272.14,50.47 272.26,53.05 272.38,55.75 272.49,58.56 272.61,61.49 272.72,64.53 272.84,67.68 272.96,70.95 273.13,67.19 273.30,63.59 273.47,60.13 273.65,56.83 273.82,53.68 273.99,50.68 274.17,47.83 274.34,45.13 274.51,42.59 274.68,40.20 274.86,37.96 275.03,35.87 275.20,33.93 275.38,32.14 275.55,30.51 275.72,29.03 275.89,27.69 276.07,26.52 276.24,25.49 276.41,24.61 276.59,23.89 276.76,23.31 276.93,22.89 277.10,22.62 277.28,22.51 277.45,22.54 277.62,22.73 277.80,23.06 277.97,23.55 278.14,24.19 278.31,24.98 278.49,25.93 278.66,27.02 278.83,28.27 279.01,29.67 279.18,31.22 279.35,32.92 279.52,34.78 279.70,36.78 279.87,38.94 280.04,41.25 280.22,43.71 280.39,46.32 280.56,49.08 280.73,52.00 280.91,55.07 281.08,58.29 281.25,61.66 281.43,65.18 281.60,68.85 281.77,72.68 281.94,76.65 282.12,80.78 282.29,85.06 282.46,89.50 282.64,94.08 282.81,98.82 282.98,103.70 283.15,108.74 283.27,104.33 283.38,100.03 283.50,95.84 283.61,91.78 283.72,87.83 283.84,83.99 283.95,80.27 284.06,76.67 284.18,73.18 284.29,69.81 284.40,66.56 284.52,63.42 284.63,60.40 284.74,57.49 284.86,54.70 284.97,52.02 285.09,49.46 285.20,47.02 285.31,44.69 285.43,42.48 285.54,40.39 285.65,38.41 285.77,36.55 285.88,34.80 285.99,33.17 286.11,31.65 286.22,30.25 286.34,28.97 286.45,27.80 286.56,26.75 286.68,25.82 286.79,25.00 286.90,24.29 287.02,23.71 287.13,23.24 287.24,22.88 287.36,22.64 287.47,22.52 287.58,22.51 287.70,22.62 287.81,22.84 287.93,23.19 288.04,23.64 288.15,24.21 288.27,24.90 288.38,25.71 288.49,26.63 288.61,27.67 288.72,28.82 288.83,30.09 288.95,31.47 289.06,32.97 289.18,34.59 289.29,36.32 289.40,38.17 289.52,40.14 289.63,42.22 289.74,44.41 289.86,46.72 289.92,45.15 289.98,43.63 290.04,42.17 290.10,40.78 290.16,39.44 290.22,38.17 290.28,36.96 290.34,35.80 290.40,34.71 290.46,33.68 290.52,32.71 290.58,31.80 290.64,30.95 290.70,30.16 290.76,29.43 290.82,28.76 290.89,28.15 290.95,27.61 291.01,27.12 291.07,26.70 291.13,26.33 291.19,26.03 291.25,25.78 291.31,25.60 291.37,25.48 291.43,25.42 291.49,25.41 291.55,25.47 291.61,25.59 291.67,25.77 291.73,26.02 291.79,26.32 291.85,26.68 291.91,27.10 291.97,27.59 292.03,28.13 292.10,28.74 292.16,29.40 292.22,30.13 292.28,30.91 292.34,31.76 292.40,32.67 292.46,33.64 292.52,34.67 292.58,35.76 292.64,36.91 292.70,38.12 292.76,39.39 292.82,40.72 292.88,42.12 292.94,43.57 293.00,45.09 293.06,46.66 293.12,48.30 293.18,49.99 293.24,51.75 293.31,53.57 293.37,55.45 293.43,57.38 293.53,54.62 293.64,51.97 293.74,49.44 293.85,47.02 293.96,44.71 294.06,42.52 294.17,40.44 294.28,38.47 294.38,36.62 294.49,34.89 294.59,33.26 294.70,31.75 294.81,30.36 294.91,29.08 295.02,27.91 295.13,26.86 295.23,25.92 295.34,25.09 295.44,24.38 295.55,23.78 295.66,23.30 295.76,22.93 295.87,22.67 295.97,22.53 296.08,22.50 296.19,22.59 296.29,22.79 296.40,23.10 296.51,23.53 296.61,24.07 296.72,24.73 296.82,25.50 296.93,26.38 297.04,27.38 297.14,28.49 297.25,29.72 297.36,31.06 297.46,32.51 297.57,34.08 297.67,35.76 297.78,37.56 297.89,39.47 297.99,41.49 298.10,43.63 298.20,45.88 298.31,48.24 298.42,50.72 298.52,53.32 298.63,56.02 298.74,58.84 298.84,61.78 298.95,64.83 299.05,67.99 299.16,71.27 299.27,74.66 299.37,78.16 299.48,81.78 299.59,85.51 299.69,89.36 299.86,84.92 300.04,80.63 300.21,76.50 300.38,72.52 300.56,68.69 300.73,65.01 300.90,61.48 301.07,58.11 301.25,54.89 301.42,51.82 301.59,48.91 301.77,46.15 301.94,43.54 302.11,41.08 302.28,38.78 302.46,36.62 302.63,34.62 302.80,32.78 302.98,31.08 303.15,29.54 303.32,28.15 303.49,26.91 303.67,25.83 303.84,24.90 304.01,24.12 304.19,23.49 304.36,23.02 304.53,22.70 304.70,22.53 304.88,22.51 305.05,22.65 305.22,22.94 305.40,23.38 305.57,23.97 305.74,24.72 305.91,25.62 306.09,26.67 306.26,27.87 306.43,29.23 306.61,30.74 306.78,32.40 306.95,34.21 307.12,36.18 307.30,38.30 307.47,40.57 307.64,42.99 307.82,45.57 307.99,48.30 308.16,51.18 308.33,54.22 308.51,57.40 308.68,60.74 308.85,64.24 309.03,67.88 309.20,71.68 309.37,75.63 309.54,79.73 309.72,83.98 309.89,88.39 310.00,84.56 310.11,80.85 310.22,77.24 310.33,73.76 310.43,70.39 310.54,67.13 310.65,63.99 310.76,60.96 310.87,58.05 310.98,55.25 311.09,52.56 311.19,50.00 311.30,47.54 311.41,45.20 311.52,42.98 311.63,40.87 311.74,38.87 311.85,36.99 311.95,35.23 312.06,33.57 312.17,32.04 312.28,30.62 312.39,29.31 312.50,28.12 312.61,27.04 312.72,26.08 312.82,25.23 312.93,24.49 313.04,23.87 313.15,23.37 313.26,22.98 313.37,22.71 313.48,22.55 313.58,22.50 313.69,22.57 313.80,22.75 313.91,23.05 314.02,23.47 314.13,23.99 314.24,24.64 314.35,25.39 314.45,26.27 314.56,27.25 314.67,28.36 314.78,29.57 314.89,30.90 315.00,32.35 315.11,33.91 315.21,35.58 315.32,37.37 315.43,39.28 315.54,41.30 315.65,43.43 315.76,45.68 315.87,48.04 315.98,50.52 316.08,53.11 316.19,55.82 316.30,58.64 316.37,57.06 316.43,55.53 316.50,54.04 316.56,52.59 316.63,51.19 316.69,49.84 316.76,48.53 316.82,47.26 316.89,46.05 316.96,44.87 317.02,43.74 317.09,42.66 317.15,41.62 317.22,40.63 317.28,39.69 317.35,38.78 317.41,37.93 317.48,37.12 317.54,36.35 317.61,35.63 317.68,34.95 317.74,34.32 317.81,33.74 317.87,33.20 317.94,32.71 318.00,32.26 318.07,31.85 318.13,31.50 318.20,31.18 318.26,30.92 318.33,30.69 318.40,30.52 318.46,30.38 318.53,30.30 318.59,30.26 318.66,30.26 318.72,30.31 318.79,30.40 318.85,30.54 318.92,30.73 318.98,30.96 319.05,31.23 319.12,31.56 319.18,31.92 319.25,32.33 319.31,32.79 319.38,33.29 319.44,33.84 319.51,34.43 319.57,35.07 319.64,35.75 319.70,36.48 319.77,37.26 319.84,38.07 319.90,38.94 319.97,39.85 320.03,40.80 320.10,41.80 320.16,42.85 320.27,40.78 320.38,38.82 320.48,36.97 320.59,35.23 320.70,33.60 320.81,32.08 320.91,30.68 321.02,29.39 321.13,28.20 321.24,27.13 321.34,26.17 321.45,25.32 321.56,24.59 321.67,23.96 321.77,23.45 321.88,23.04 321.99,22.75 322.10,22.57 322.20,22.50 322.31,22.54 322.42,22.70 322.53,22.96 322.63,23.34 322.74,23.82 322.85,24.42 322.96,25.13 323.06,25.95 323.17,26.88 323.28,27.93 323.39,29.08 323.49,30.35 323.60,31.72 323.71,33.21 323.81,34.81 323.92,36.52 324.03,38.35 324.14,40.28 324.24,42.32 324.35,44.48 324.46,46.75 324.57,49.13 324.67,51.62 324.78,54.22 324.89,56.93 325.00,59.75 325.10,62.69 325.21,65.73 325.32,68.89 325.43,72.16 325.53,75.54 325.64,79.03 325.75,82.64 325.86,86.35 325.96,90.17 326.07,94.11 326.18,98.16 326.29,102.32 326.39,106.59 326.50,110.97 326.62,107.02 326.74,103.17 326.86,99.40 326.97,95.72 327.09,92.14 327.21,88.64 327.33,85.24 327.45,81.92 327.57,78.69 327.69,75.56 327.80,72.51 327.92,69.55 328.04,66.69 328.16,63.91 328.28,61.23 328.40,58.63 328.52,56.13 328.63,53.71 328.75,51.38 328.87,49.15 328.99,47.00 329.11,44.95 329.23,42.98 329.35,41.11 329.46,39.32 329.58,37.63 329.70,36.02 329.82,34.50 329.94,33.08 330.06,31.74 330.17,30.50 330.29,29.34 330.41,28.28 330.53,27.30 330.65,26.42 330.77,25.62 330.89,24.92 331.00,24.30 331.12,23.78 331.24,23.34 331.36,23.00 331.48,22.74 331.60,22.58 331.72,22.50 331.83,22.52 331.95,22.63 332.07,22.82 332.19,23.11 332.31,23.48 332.43,23.95 332.55,24.50 332.66,25.15 332.78,25.88 332.90,26.71 333.02,27.63 333.14,28.63 333.26,29.73 333.38,30.91 333.49,32.19 333.54,31.50 333.59,30.85 333.64,30.25 333.69,29.69 333.74,29.17 333.79,28.70 333.84,28.27 333.89,27.89 333.94,27.55 333.99,27.25 334.04,26.99 334.09,26.78 334.14,26.62 334.19,26.49 334.23,26.41 334.28,26.38 334.33,26.39 334.38,26.44 334.43,26.53 334.48,26.67 334.53,26.85 334.58,27.08 334.63,27.35 334.68,27.66 334.73,28.02 334.78,28.42 334.83,28.86 334.88,29.35 334.93,29.88 334.98,30.46 335.02,31.07 335.07,31.74 335.12,32.44 335.17,33.19 335.22,33.98 335.27,34.82 335.32,35.70 335.37,36.62 335.42,37.59 335.47,38.60 335.52,39.66 335.57,40.76 335.62,41.90 335.67,43.08 335.72,44.31 335.77,45.59 335.82,46.90 335.86,48.26 335.91,49.67 335.96,51.11 336.01,52.61 336.06,54.14 336.11,55.72 336.16,57.34 336.21,59.01 336.26,60.72 336.31,62.47 336.36,64.26 336.41,66.10 336.52,62.98 336.63,59.97 336.74,57.07 336.85,54.30 336.96,51.63 337.07,49.09 337.19,46.66 337.30,44.35 337.41,42.15 337.52,40.07 337.63,38.11 337.74,36.26 337.85,34.53 337.96,32.91 338.07,31.42 338.19,30.03 338.30,28.77 338.41,27.62 338.52,26.59 338.63,25.67 338.74,24.87 338.85,24.18 338.96,23.62 339.07,23.17 339.19,22.83 339.30,22.61 339.41,22.51 339.52,22.52 339.63,22.65 339.74,22.90 339.85,23.26 339.96,23.74 340.08,24.34 340.19,25.05 340.30,25.88 340.41,26.82 340.52,27.88 340.63,29.06 340.74,30.35 340.85,31.76 340.96,33.29 341.08,34.93 341.19,36.69 341.30,38.56 341.41,40.55 341.52,42.66 341.63,44.88 341.74,47.22 341.85,49.68 341.96,52.25 342.08,54.94 342.19,57.75 342.30,60.67 342.41,63.71 342.52,66.86 342.63,70.13 342.74,73.52 342.85,77.02 342.96,80.64 343.02,78.19 343.07,75.79 343.13,73.45 343.18,71.17 343.24,68.94 343.29,66.76 343.34,64.65 343.40,62.58 343.45,60.58 343.51,58.63 343.56,56.73 343.62,54.89 343.67,53.11 343.73,51.38 343.78,49.71 343.83,48.09 343.89,46.53 343.94,45.02 344.00,43.57 344.05,42.18 344.11,40.84 344.16,39.56 344.21,38.33 344.27,37.16 344.32,36.04 344.38,34.98 344.43,33.98 344.49,33.03 344.54,32.13 344.59,31.30 344.65,30.51 344.70,29.79 344.76,29.12 344.81,28.50 344.87,27.94 344.92,27.44 344.97,26.99 345.03,26.60 345.08,26.26 345.14,25.98 345.19,25.76 345.25,25.59 345.30,25.47 345.35,25.42 345.41,25.41 345.46,25.47 345.52,25.57 345.57,25.74 345.63,25.96 345.68,26.23 345.74,26.57 345.79,26.95 345.84,27.40 345.90,27.89 345.95,28.45 346.01,29.06 346.06,29.72 346.12,30.44 346.17,31.22 346.30,30.10 346.43,29.05 346.56,28.08 346.69,27.19 346.82,26.37 346.96,25.64 347.09,24.98 347.22,24.40 347.35,23.89 347.48,23.47 347.61,23.12 347.74,22.85 347.87,22.65 348.00,22.54 348.13,22.50 348.26,22.54 348.39,22.66 348.53,22.85 348.66,23.12 348.79,23.47 348.92,23.90 349.05,24.40 349.18,24.98 349.31,25.64 349.44,26.38 349.57,27.20 349.70,28.09 349.83,29.06 349.97,30.11 350.10,31.23 350.23,32.43 350.36,33.71 350.49,35.07 350.62,36.51 350.75,38.02 350.88,39.61 351.01,41.28 351.14,43.02 351.27,44.85 351.41,46.75 351.54,48.73 351.67,50.78 351.80,52.91 351.93,55.13 352.06,57.41 352.19,59.78 352.32,62.22 352.45,64.75 352.58,67.34 352.71,70.02 352.84,72.77 352.98,75.61 353.11,78.51 353.24,81.50 353.37,84.57 353.50,87.71 353.63,90.93 353.76,94.22 353.89,97.60 353.97,93.81 354.05,90.12 354.14,86.52 354.22,83.03 354.30,79.63 354.38,76.33 354.46,73.13 354.54,70.03 354.63,67.02 354.71,64.11 354.79,61.31 354.87,58.60 354.95,55.98 355.03,53.47 355.11,51.05 355.20,48.73 355.28,46.51 355.36,44.39 355.44,42.37 355.52,40.44 355.60,38.62 355.68,36.89 355.77,35.26 355.85,33.72 355.93,32.29 356.01,30.95 356.09,29.71 356.17,28.57 356.26,27.53 356.34,26.58 356.42,25.74 356.50,24.99 356.58,24.34 356.66,23.79 356.74,23.33 356.83,22.98 356.91,22.72 356.99,22.56 357.07,22.50 357.15,22.54 357.23,22.67 357.31,22.91 357.40,23.24 357.48,23.67 357.56,24.19 357.64,24.82 357.72,25.54 357.80,26.36 357.89,27.28 357.97,28.30 358.05,29.42 358.13,30.63 358.21,31.95 358.29,33.36 358.37,34.86 358.46,36.47 358.54,38.18 358.62,39.98 358.70,41.88" fill="none" stroke="#383838" stroke-width="1.0" stroke-dasharray="2.3 1.7" stroke-linejoin="round"/>
<polyline points="22.80,262.90 23.17,262.12 23.53,261.35 23.90,260.59 24.26,259.84 24.63,259.09 24.99,258.36 25.36,257.65 25.72,256.94 26.09,256.26 26.45,255.59 26.82,254.93 27.18,254.28 27.55,253.65 27.92,253.02 28.28,252.40 28.65,251.78 29.01,251.17 29.38,250.58 29.74,249.98 30.11,249.40 30.47,248.82 30.84,248.24 31.20,247.67 31.57,247.11 31.94,246.55 32.30,245.99 32.67,245.44 33.03,244.89 33.40,244.35 33.76,243.81 34.13,243.27 34.49,242.74 34.86,242.21 35.22,241.69 35.59,241.17 35.95,240.65 36.32,240.14 36.69,239.63 37.05,239.13 37.42,238.63 37.78,238.13 38.15,237.63 38.51,237.14 38.88,236.65 39.24,236.16 39.61,235.68 39.97,235.20 40.34,234.72 40.71,234.24 41.07,233.76 41.44,233.29 41.80,232.81 42.17,232.34 42.53,231.87 42.90,231.39 43.26,230.92 43.63,230.45 43.99,229.98 44.36,229.51 44.72,229.04 45.09,228.57 45.46,228.10 45.82,227.63 46.19,227.15 46.55,226.67 46.92,226.20 47.28,225.72 47.65,225.24 48.01,224.76 48.38,224.28 48.74,223.80 49.11,223.33 49.48,222.85 49.84,222.38 50.21,221.91 50.57,221.44 50.94,220.97 51.30,220.51 51.67,220.05 52.03,219.60 52.40,219.15 52.76,218.70 53.13,218.26 53.49,217.82 53.86,217.39 54.23,216.97 54.59,216.55 54.96,216.14 55.32,215.74 55.69,215.34 56.05,214.95 56.42,214.57 56.78,214.20 57.15,213.84 57.51,213.47 57.88,213.12 58.25,212.77 58.61,212.43 58.98,212.09 59.34,211.75 59.71,211.42 60.07,211.09 60.44,210.77 60.80,210.45 61.17,210.13 61.53,209.81 61.90,209.50 62.26,209.19 62.63,208.88 63.00,208.57 63.36,208.25 63.73,207.94 64.09,207.63 64.46,207.32 64.82,207.01 65.19,206.71 65.55,206.40 65.92,206.09 66.28,205.78 66.65,205.48 67.02,205.18 67.38,204.88 67.75,204.58 68.11,204.28 68.48,203.99 68.84,203.69 69.21,203.40 69.57,203.12 69.94,202.83 70.30,202.55 70.67,202.27 71.03,201.99 71.40,201.72 71.77,201.45 72.13,201.18 72.50,200.92 72.86,200.66 73.23,200.40 73.59,200.15 73.96,199.89 74.32,199.64 74.69,199.39 75.05,199.15 75.42,198.90 75.78,198.66 76.15,198.42 76.52,198.18 76.88,197.95 77.25,197.71 77.61,197.48 77.98,197.25 78.34,197.02 78.71,196.80 79.07,196.57 79.44,196.35 79.80,196.13 80.17,195.91 80.54,195.69 80.90,195.47 81.27,195.25 81.63,195.04 82.00,194.83 82.36,194.62 82.73,194.41 83.09,194.20 83.46,194.00 83.82,193.79 84.19,193.59 84.55,193.39 84.92,193.18 85.29,192.98 85.65,192.79 86.02,192.59 86.38,192.39 86.75,192.20 87.11,192.00 87.48,191.81 87.84,191.62 88.21,191.43 88.57,191.24 88.94,191.05 89.31,190.86 89.67,190.67 90.04,190.48 90.40,190.29 90.77,190.10 91.13,189.91 91.50,189.72 91.86,189.53 92.23,189.34 92.59,189.15 92.96,188.96 93.32,188.78 93.69,188.59 94.06,188.40 94.42,188.22 94.79,188.04 95.15,187.86 95.52,187.69 95.88,187.51 96.25,187.35 96.61,187.18 96.98,187.02 97.34,186.86 97.71,186.71 98.08,186.56 98.44,186.42 98.81,186.28 99.17,186.15 99.54,186.02 99.90,185.89 100.27,185.76 100.63,185.64 101.00,185.52 101.36,185.40 101.73,185.29 102.09,185.17 102.46,185.06 102.83,184.95 103.19,184.85 103.56,184.74 103.92,184.63 104.29,184.53 104.65,184.43 105.02,184.32 105.38,184.22 105.75,184.12 106.11,184.02 106.48,183.92 106.85,183.83 107.21,183.73 107.58,183.63 107.94,183.53 108.31,183.43 108.67,183.33 109.04,183.23 109.40,183.13 109.77,183.03 110.13,182.93 110.50,182.82 110.86,182.72 111.23,182.61 111.60,182.50 111.96,182.39 112.33,182.28 112.69,182.17 113.06,182.06 113.42,181.94 113.79,181.83 114.15,181.71 114.52,181.59 114.88,181.48 115.25,181.36 115.62,181.24 115.98,181.13 116.35,181.01 116.71,180.89 117.08,180.77 117.44,180.65 117.81,180.53 118.17,180.41 118.54,180.29 118.90,180.18 119.27,180.06 119.63,179.94 120.00,179.82 120.37,179.70 120.73,179.58 121.10,179.46 121.46,179.34 121.83,179.22 122.19,179.10 122.56,178.98 122.92,178.87 123.29,178.75 123.65,178.63 124.02,178.52 124.38,178.40 124.75,178.28 125.12,178.17 125.48,178.05 125.85,177.94 126.21,177.82 126.58,177.71 126.94,177.59 127.31,177.48 127.67,177.37 128.04,177.25 128.40,177.14 128.77,177.03 129.14,176.91 129.50,176.80 129.87,176.68 130.23,176.57 130.60,176.46 130.96,176.35 131.33,176.23 131.69,176.12 132.06,176.01 132.42,175.90 132.79,175.78 133.15,175.67 133.52,175.56 133.89,175.45 134.25,175.33 134.62,175.22 134.98,175.11 135.35,175.00 135.71,174.89 136.08,174.77 136.44,174.66 136.81,174.55 137.17,174.44 137.54,174.33 137.91,174.22 138.27,174.10 138.64,173.99 139.00,173.88 139.37,173.77 139.73,173.66 140.10,173.54 140.46,173.43 140.83,173.32 141.19,173.21 141.56,173.09 141.92,172.98 142.29,172.87 142.66,172.76 143.02,172.65 143.39,172.53 143.75,172.42 144.12,172.31 144.48,172.20 144.85,172.09 145.21,171.98 145.58,171.87 145.94,171.76 146.31,171.65 146.68,171.54 147.04,171.43 147.41,171.32 147.77,171.21 148.14,171.10 148.50,170.99 148.87,170.89 149.23,170.78 149.60,170.67 149.96,170.57 150.33,170.46 150.69,170.36 151.06,170.26 151.43,170.15 151.79,170.05 152.16,169.94 152.52,169.84 152.89,169.74 153.25,169.64 153.62,169.53 153.98,169.43 154.35,169.33 154.71,169.23 155.08,169.13 155.45,169.03 155.81,168.93 156.18,168.83 156.54,168.73 156.91,168.63 157.27,168.53 157.64,168.43 158.00,168.33 158.37,168.23 158.73,168.13 159.10,168.03 159.46,167.93 159.83,167.84 160.20,167.74 160.56,167.64 160.93,167.54 161.29,167.45 161.66,167.35 162.02,167.26 162.39,167.16 162.75,167.07 163.12,166.97 163.48,166.88 163.85,166.78 164.22,166.69 164.58,166.59 164.95,166.50 165.31,166.41 165.68,166.31 166.04,166.22 166.41,166.13 166.77,166.04 167.14,165.95 167.50,165.86 167.87,165.77 168.23,165.69 168.60,165.60" fill="none" stroke="#6259ce" stroke-width="1.0" stroke-linejoin="round"/>
<polyline points="22.80,262.90 23.17,262.02 23.53,261.14 23.90,260.28 24.26,259.43 24.63,258.59 24.99,257.76 25.36,256.95 25.72,256.15 26.09,255.37 26.45,254.61 26.82,253.86 27.18,253.12 27.55,252.38 27.92,251.66 28.28,250.94 28.65,250.23 29.01,249.53 29.38,248.84 29.74,248.16 30.11,247.49 30.47,246.83 30.84,246.19 31.20,245.55 31.57,244.93 31.94,244.31 32.30,243.71 32.67,243.12 33.03,242.54 33.40,241.97 33.76,241.39 34.13,240.83 34.49,240.27 34.86,239.72 35.22,239.17 35.59,238.63 35.95,238.09 36.32,237.56 36.69,237.04 37.05,236.51 37.42,236.00 37.78,235.49 38.15,234.98 38.51,234.48 38.88,233.98 39.24,233.49 39.61,233.00 39.97,232.51 40.34,232.03 40.71,231.55 41.07,231.08 41.44,230.60 41.80,230.14 42.17,229.67 42.53,229.21 42.90,228.75 43.26,228.30 43.63,227.84 43.99,227.39 44.36,226.95 44.72,226.50 45.09,226.07 45.46,225.63 45.82,225.20 46.19,224.78 46.55,224.35 46.92,223.93 47.28,223.52 47.65,223.11 48.01,222.70 48.38,222.29 48.74,221.89 49.11,221.49 49.48,221.09 49.84,220.70 50.21,220.30 50.57,219.91 50.94,219.52 51.30,219.14 51.67,218.75 52.03,218.37 52.40,217.98 52.76,217.60 53.13,217.22 53.49,216.84 53.86,216.46 54.23,216.08 54.59,215.70 54.96,215.32 55.32,214.94 55.69,214.56 56.05,214.18 56.42,213.79 56.78,213.41 57.15,213.03 57.51,212.66 57.88,212.28 58.25,211.90 58.61,211.53 58.98,211.16 59.34,210.78 59.71,210.41 60.07,210.04 60.44,209.68 60.80,209.31 61.17,208.95 61.53,208.58 61.90,208.22 62.26,207.86 62.63,207.50 63.00,207.15 63.36,206.79 63.73,206.44 64.09,206.09 64.46,205.74 64.82,205.39 65.19,205.04 65.55,204.69 65.92,204.34 66.28,203.99 66.65,203.64 67.02,203.30 67.38,202.95 67.75,202.61 68.11,202.27 68.48,201.93 68.84,201.59 69.21,201.26 69.57,200.93 69.94,200.61 70.30,200.29 70.67,199.97 71.03,199.66 71.40,199.35 71.77,199.05 72.13,198.76 72.50,198.47 72.86,198.19 73.23,197.91 73.59,197.65 73.96,197.38 74.32,197.12 74.69,196.87 75.05,196.62 75.42,196.37 75.78,196.12 76.15,195.88 76.52,195.63 76.88,195.39 77.25,195.14 77.61,194.90 77.98,194.65 78.34,194.40 78.71,194.15 79.07,193.89 79.44,193.63 79.80,193.37 80.17,193.10 80.54,192.82 80.90,192.53 81.27,192.24 81.63,191.94 82.00,191.64 82.36,191.34 82.73,191.03 83.09,190.73 83.46,190.43 83.82,190.14 84.19,189.85 84.55,189.56 84.92,189.29 85.29,189.02 85.65,188.75 86.02,188.48 86.38,188.21 86.75,187.94 87.11,187.66 87.48,187.39 87.84,187.12 88.21,186.86 88.57,186.59 88.94,186.33 89.31,186.08 89.67,185.83 90.04,185.58 90.40,185.35 90.77,185.11 91.13,184.89 91.50,184.68 91.86,184.47 92.23,184.27 92.59,184.09 92.96,183.91 93.32,183.75 93.69,183.59 94.06,183.44 94.42,183.29 94.79,183.15 95.15,183.01 95.52,182.87 95.88,182.74 96.25,182.61 96.61,182.49 96.98,182.36 97.34,182.24 97.71,182.13 98.08,182.01 98.44,181.90 98.81,181.79 99.17,181.68 99.54,181.57 99.90,181.47 100.27,181.36 100.63,181.26 101.00,181.16 101.36,181.05 101.73,180.95 102.09,180.85 102.46,180.75 102.83,180.65 103.19,180.55 103.56,180.45 103.92,180.34 104.29,180.24 104.65,180.14 105.02,180.03 105.38,179.92 105.75,179.82 106.11,179.71 106.48,179.60 106.85,179.49 107.21,179.39 107.58,179.28 107.94,179.17 108.31,179.07 108.67,178.96 109.04,178.86 109.40,178.76 109.77,178.66 110.13,178.56 110.50,178.46 110.86,178.37 111.23,178.27 111.60,178.18 111.96,178.10 112.33,178.01 112.69,177.93 113.06,177.85 113.42,177.78 113.79,177.71 114.15,177.64 114.52,177.58 114.88,177.52 115.25,177.46 115.62,177.41 115.98,177.36 116.35,177.31 116.71,177.26 117.08,177.22 117.44,177.18 117.81,177.13 118.17,177.09 118.54,177.06 118.90,177.02 119.27,176.98 119.63,176.94 120.00,176.91 120.37,176.87 120.73,176.84 121.10,176.80 121.46,176.76 121.83,176.73 122.19,176.69 122.56,176.65 122.92,176.61 123.29,176.57 123.65,176.53 124.02,176.49 124.38,176.44 124.75,176.40 125.12,176.35 125.48,176.30 125.85,176.24 126.21,176.19 126.58,176.13 126.94,176.06 127.31,175.99 127.67,175.92 128.04,175.84 128.40,175.75 128.77,175.67 129.14,175.58 129.50,175.49 129.87,175.39 130.23,175.30 130.60,175.20 130.96,175.11 131.33,175.01 131.69,174.91 132.06,174.81 132.42,174.71 132.79,174.62 133.15,174.52 133.52,174.43 133.89,174.34 134.25,174.25 134.62,174.16 134.98,174.08 135.35,174.00 135.71,173.92 136.08,173.85 136.44,173.78 136.81,173.72 137.17,173.66 137.54,173.61 137.91,173.56 138.27,173.52 138.64,173.48 139.00,173.45 139.37,173.42 139.73,173.39 140.10,173.36 140.46,173.33 140.83,173.31 141.19,173.28 141.56,173.26 141.92,173.23 142.29,173.20 142.66,173.17 143.02,173.13 143.39,173.10 143.75,173.06 144.12,173.01 144.48,172.96 144.85,172.91 145.21,172.85 145.58,172.79 145.94,172.72 146.31,172.64 146.68,172.56 147.04,172.47 147.41,172.38 147.77,172.28 148.14,172.17 148.50,172.05 148.87,171.93 149.23,171.80 149.60,171.66 149.96,171.46 150.33,171.20 150.69,170.90 151.06,170.58 151.43,170.24 151.79,169.91 152.16,169.59 152.52,169.29 152.89,169.03 153.25,168.83 153.62,168.66 153.98,168.51 154.35,168.36 154.71,168.21 155.08,168.07 155.45,167.93 155.81,167.80 156.18,167.68 156.54,167.56 156.91,167.44 157.27,167.33 157.64,167.23 158.00,167.13 158.37,167.03 158.73,166.94 159.10,166.85 159.46,166.77 159.83,166.70 160.20,166.62 160.56,166.56 160.93,166.49 161.29,166.43 161.66,166.37 162.02,166.31 162.39,166.25 162.75,166.19 163.12,166.14 163.48,166.08 163.85,166.03 164.22,165.98 164.58,165.93 164.95,165.88 165.31,165.84 165.68,165.80 166.04,165.76 166.41,165.73 166.77,165.70 167.14,165.67 167.50,165.65 167.87,165.63 168.23,165.61 168.60,165.60" fill="none" stroke="#383838" stroke-width="1.1" stroke-dasharray="2.6 2.0" stroke-linejoin="round"/>
<polyline points="212.60,263.30 213.33,262.82 214.06,262.33 214.79,261.85 215.53,261.36 216.26,260.88 216.99,260.39 217.72,259.91 218.45,259.42 219.18,258.94 219.92,258.45 220.65,257.97 221.38,257.48 222.11,257.00 222.84,256.51 223.57,256.03 224.31,255.54 225.04,255.06 225.77,254.57 226.50,254.09 227.23,253.60 227.96,253.12 228.70,252.63 229.43,252.15 230.16,251.66 230.89,251.18 231.62,250.69 232.35,250.21 233.09,249.72 233.82,249.24 234.55,248.75 235.28,248.27 236.01,247.78 236.74,247.30 237.48,246.81 238.21,246.33 238.94,245.84 239.67,245.36 240.40,244.87 241.13,244.39 241.87,243.90 242.60,243.42 243.33,242.93 244.06,242.45 244.79,241.96 245.52,241.48 246.26,240.99 246.99,240.51 247.72,240.02 248.45,239.54 249.18,239.05 249.91,238.57 250.65,238.08 251.38,237.60 252.11,237.11 252.84,236.63 253.57,236.14 254.30,235.66 255.04,235.17 255.77,234.69 256.50,234.20 257.23,233.72 257.96,233.23 258.69,232.75 259.43,232.26 260.16,231.78 260.89,231.29 261.62,230.81 262.35,230.32 263.08,229.84 263.82,229.35 264.55,228.87 265.28,228.38 266.01,227.90 266.74,227.41 267.47,226.93 268.21,226.44 268.94,225.96 269.67,225.47 270.40,224.99 271.13,224.50 271.86,224.02 272.60,223.53 273.33,223.05 274.06,222.56 274.79,222.08 275.52,221.59 276.25,221.11 276.99,220.62 277.72,220.14 278.45,219.65 279.18,219.17 279.91,218.68 280.64,218.20 281.38,217.71 282.11,217.23 282.84,216.74 283.57,216.26 284.30,215.77 285.03,215.29 285.77,214.80 286.50,214.32 287.23,213.83 287.96,213.35 288.69,212.86 289.42,212.38 290.16,211.89 290.89,211.41 291.62,210.92 292.35,210.44 293.08,209.95 293.81,209.47 294.55,208.98 295.28,208.50 296.01,208.01 296.74,207.53 297.47,207.04 298.20,206.56 298.94,206.07 299.67,205.59 300.40,205.11 301.13,204.62 301.86,204.14 302.59,203.65 303.33,203.17 304.06,202.68 304.79,202.20 305.52,201.71 306.25,201.23 306.98,200.74 307.72,200.26 308.45,199.77 309.18,199.29 309.91,198.80 310.64,198.32 311.37,197.83 312.11,197.35 312.84,196.86 313.57,196.38 314.30,195.89 315.03,195.41 315.76,194.92 316.50,194.44 317.23,193.95 317.96,193.47 318.69,192.98 319.42,192.50 320.15,192.01 320.89,191.53 321.62,191.04 322.35,190.56 323.08,190.07 323.81,189.59 324.54,189.10 325.28,188.62 326.01,188.13 326.74,187.65 327.47,187.16 328.20,186.68 328.93,186.19 329.67,185.71 330.40,185.22 331.13,184.74 331.86,184.25 332.59,183.77 333.32,183.28 334.06,182.80 334.79,182.31 335.52,181.83 336.25,181.34 336.98,180.86 337.71,180.37 338.45,179.89 339.18,179.40 339.91,178.92 340.64,178.43 341.37,177.95 342.10,177.46 342.84,176.98 343.57,176.49 344.30,176.01 345.03,175.52 345.76,175.04 346.49,174.55 347.23,174.07 347.96,173.58 348.69,173.10 349.42,172.61 350.15,172.13 350.88,171.64 351.62,171.16 352.35,170.67 353.08,170.19 353.81,169.70 354.54,169.22 355.27,168.73 356.01,168.25 356.74,167.76 357.47,167.28 358.20,166.79" fill="none" stroke="#6259ce" stroke-width="1.0" stroke-linejoin="round"/>
<polyline points="212.60,263.30 213.33,262.85 214.06,262.41 214.79,261.96 215.53,261.52 216.26,261.07 216.99,260.62 217.72,260.18 218.45,259.73 219.18,259.28 219.92,258.84 220.65,258.39 221.38,257.95 222.11,257.50 222.84,257.05 223.57,256.61 224.31,256.16 225.04,255.71 225.77,255.27 226.50,254.82 227.23,254.38 227.96,253.93 228.70,253.48 229.43,253.04 230.16,252.59 230.89,252.14 231.62,251.70 232.35,251.25 233.09,250.81 233.82,250.36 234.55,249.91 235.28,249.47 236.01,249.02 236.74,248.57 237.48,248.13 238.21,247.68 238.94,247.24 239.67,246.79 240.40,246.34 241.13,245.90 241.87,245.45 242.60,245.00 243.33,244.56 244.06,244.11 244.79,243.67 245.52,243.22 246.26,242.77 246.99,242.33 247.72,241.88 248.45,241.44 249.18,240.99 249.91,240.54 250.65,240.14 251.38,239.74 252.11,239.34 252.84,238.94 253.57,238.54 254.30,238.14 255.04,237.74 255.77,237.34 256.50,236.94 257.23,236.55 257.96,236.15 258.69,235.75 259.43,235.35 260.16,234.95 260.89,234.55 261.62,234.15 262.35,233.75 263.08,233.35 263.82,232.95 264.55,232.56 265.28,232.16 266.01,231.76 266.74,231.36 267.47,230.96 268.21,230.54 268.94,230.10 269.67,229.65 270.40,229.21 271.13,228.76 271.86,228.31 272.60,227.87 273.33,227.42 274.06,226.98 274.79,226.53 275.52,226.08 276.25,225.64 276.99,225.19 277.72,224.75 278.45,224.30 279.18,223.86 279.91,223.41 280.64,222.96 281.38,222.52 282.11,222.07 282.84,221.63 283.57,221.18 284.30,220.73 285.03,220.29 285.77,219.84 286.50,219.40 287.23,218.95 287.96,218.51 288.69,218.06 289.42,217.61 290.16,217.16 290.89,216.66 291.62,216.17 292.35,215.67 293.08,215.18 293.81,214.68 294.55,214.19 295.28,213.69 296.01,213.20 296.74,212.70 297.47,212.21 298.20,211.71 298.94,211.22 299.67,210.72 300.40,210.23 301.13,209.73 301.86,209.24 302.59,208.75 303.33,208.25 304.06,207.76 304.79,207.26 305.52,206.77 306.25,206.27 306.98,205.78 307.72,205.28 308.45,204.79 309.18,204.29 309.91,203.80 310.64,203.40 311.37,203.01 312.11,202.62 312.84,202.24 313.57,201.85 314.30,201.46 315.03,201.08 315.76,200.69 316.50,200.30 317.23,199.91 317.96,199.45 318.69,198.93 319.42,198.41 320.15,197.89 320.89,197.37 321.62,196.85 322.35,196.33 323.08,195.81 323.81,195.29 324.54,194.78 325.28,194.25 326.01,193.70 326.74,193.15 327.47,192.60 328.20,192.06 328.93,191.51 329.67,190.96 330.40,190.42 331.13,189.87 331.86,189.32 332.59,188.77 333.32,188.15 334.06,187.54 334.79,186.93 335.52,186.31 336.25,185.70 336.98,185.09 337.71,184.47 338.45,183.86 339.18,183.25 339.91,182.63 340.64,182.09 341.37,181.55 342.10,181.02 342.84,180.48 343.57,179.95 344.30,179.42 345.03,178.88 345.76,178.35 346.49,177.81 347.23,177.28 347.96,176.64 348.69,175.99 349.42,175.34 350.15,174.69 350.88,174.05 351.62,173.40 352.35,172.75 353.08,172.10 353.81,171.45 354.54,170.81 355.27,170.16 356.01,169.51 356.74,168.86 357.47,168.21 358.20,167.57" fill="none" stroke="#383838" stroke-width="1.1" stroke-dasharray="2.6 2.0" stroke-linejoin="round"/>
<line x1="23.00" y1="119.4" x2="23.00" y2="118.0" stroke="#7a7a7a" stroke-width="0.6"/>
<line x1="23.00" y1="22.4" x2="23.00" y2="23.799999999999997" stroke="#7a7a7a" stroke-width="0.6"/>
<line x1="59.42" y1="119.4" x2="59.42" y2="118.0" stroke="#7a7a7a" stroke-width="0.6"/>
<line x1="59.42" y1="22.4" x2="59.42" y2="23.799999999999997" stroke="#7a7a7a" stroke-width="0.6"/>
<line x1="95.85" y1="119.4" x2="95.85" y2="118.0" stroke="#7a7a7a" stroke-width="0.6"/>
<line x1="95.85" y1="22.4" x2="95.85" y2="23.799999999999997" stroke="#7a7a7a" stroke-width="0.6"/>
<line x1="132.28" y1="119.4" x2="132.28" y2="118.0" stroke="#7a7a7a" stroke-width="0.6"/>
<line x1="132.28" y1="22.4" x2="132.28" y2="23.799999999999997" stroke="#7a7a7a" stroke-width="0.6"/>
<line x1="168.70" y1="119.4" x2="168.70" y2="118.0" stroke="#7a7a7a" stroke-width="0.6"/>
<line x1="168.70" y1="22.4" x2="168.70" y2="23.799999999999997" stroke="#7a7a7a" stroke-width="0.6"/>
<line x1="23.0" y1="119.40" x2="24.4" y2="119.40" stroke="#7a7a7a" stroke-width="0.6"/>
<line x1="168.7" y1="119.40" x2="167.29999999999998" y2="119.40" stroke="#7a7a7a" stroke-width="0.6"/>
<line x1="23.0" y1="100.00" x2="24.4" y2="100.00" stroke="#7a7a7a" stroke-width="0.6"/>
<line x1="168.7" y1="100.00" x2="167.29999999999998" y2="100.00" stroke="#7a7a7a" stroke-width="0.6"/>
<line x1="23.0" y1="80.60" x2="24.4" y2="80.60" stroke="#7a7a7a" stroke-width="0.6"/>
<line x1="168.7" y1="80.60" x2="167.29999999999998" y2="80.60" stroke="#7a7a7a" stroke-width="0.6"/>
<line x1="23.0" y1="61.20" x2="24.4" y2="61.20" stroke="#7a7a7a" stroke-width="0.6"/>
<line x1="168.7" y1="61.20" x2="167.29999999999998" y2="61.20" stroke="#7a7a7a" stroke-width="0.6"/>
<line x1="23.0" y1="41.80" x2="24.4" y2="41.80" stroke="#7a7a7a" stroke-width="0.6"/>
<line x1="168.7" y1="41.80" x2="167.29999999999998" y2="41.80" stroke="#7a7a7a" stroke-width="0.6"/>
<line x1="23.0" y1="22.40" x2="24.4" y2="22.40" stroke="#7a7a7a" stroke-width="0.6"/>
<line x1="168.7" y1="22.40" x2="167.29999999999998" y2="22.40" stroke="#7a7a7a" stroke-width="0.6"/>
<rect x="23.0" y="22.4" width="145.70" height="97.00" fill="none" stroke="#7a7a7a" stroke-width="1.1"/>
<text x="23.00" y="127.50" font-size="6.3" text-anchor="middle" fill="#222" class="t">0</text>
<text x="59.42" y="127.50" font-size="6.3" text-anchor="middle" fill="#222" class="t">5</text>
<text x="95.85" y="127.50" font-size="6.3" text-anchor="middle" fill="#222" class="t">10</text>
<text x="132.28" y="127.50" font-size="6.3" text-anchor="middle" fill="#222" class="t">15</text>
<text x="168.70" y="127.50" font-size="6.3" text-anchor="middle" fill="#222" class="t">20</text>
<text x="20.80" y="122.40" font-size="6.3" text-anchor="end" fill="#222" class="t">0</text>
<text x="20.80" y="103.00" font-size="6.3" text-anchor="end" fill="#222" class="t">0.2</text>
<text x="20.80" y="83.60" font-size="6.3" text-anchor="end" fill="#222" class="t">0.4</text>
<text x="20.80" y="64.20" font-size="6.3" text-anchor="end" fill="#222" class="t">0.6</text>
<text x="20.80" y="44.80" font-size="6.3" text-anchor="end" fill="#222" class="t">0.8</text>
<text x="20.80" y="25.40" font-size="6.3" text-anchor="end" fill="#222" class="t">1</text>
<text x="95.85" y="136.40" font-size="6.3" font-style="italic" text-anchor="middle" fill="#222" class="t">R</text>
<g transform="translate(8.20,80.00) rotate(-90)" fill="#222" class="t"><text x="-0.2" y="0" font-size="7.4">σ</text><text x="4.3" y="-4.6" font-size="5.4">2</text><text x="4.1" y="2.1" font-size="5.2">N</text><text transform="translate(9.0,-0.5) scale(0.86,1)" font-size="7.8">(<tspan font-style="italic">R</tspan>)</text></g>
<line x1="213.00" y1="119.4" x2="213.00" y2="118.0" stroke="#7a7a7a" stroke-width="0.6"/>
<line x1="213.00" y1="22.5" x2="213.00" y2="23.9" stroke="#7a7a7a" stroke-width="0.6"/>
<line x1="249.43" y1="119.4" x2="249.43" y2="118.0" stroke="#7a7a7a" stroke-width="0.6"/>
<line x1="249.43" y1="22.5" x2="249.43" y2="23.9" stroke="#7a7a7a" stroke-width="0.6"/>
<line x1="285.85" y1="119.4" x2="285.85" y2="118.0" stroke="#7a7a7a" stroke-width="0.6"/>
<line x1="285.85" y1="22.5" x2="285.85" y2="23.9" stroke="#7a7a7a" stroke-width="0.6"/>
<line x1="322.27" y1="119.4" x2="322.27" y2="118.0" stroke="#7a7a7a" stroke-width="0.6"/>
<line x1="322.27" y1="22.5" x2="322.27" y2="23.9" stroke="#7a7a7a" stroke-width="0.6"/>
<line x1="358.70" y1="119.4" x2="358.70" y2="118.0" stroke="#7a7a7a" stroke-width="0.6"/>
<line x1="358.70" y1="22.5" x2="358.70" y2="23.9" stroke="#7a7a7a" stroke-width="0.6"/>
<line x1="213.0" y1="119.40" x2="214.4" y2="119.40" stroke="#7a7a7a" stroke-width="0.6"/>
<line x1="358.7" y1="119.40" x2="357.3" y2="119.40" stroke="#7a7a7a" stroke-width="0.6"/>
<line x1="213.0" y1="100.02" x2="214.4" y2="100.02" stroke="#7a7a7a" stroke-width="0.6"/>
<line x1="358.7" y1="100.02" x2="357.3" y2="100.02" stroke="#7a7a7a" stroke-width="0.6"/>
<line x1="213.0" y1="80.64" x2="214.4" y2="80.64" stroke="#7a7a7a" stroke-width="0.6"/>
<line x1="358.7" y1="80.64" x2="357.3" y2="80.64" stroke="#7a7a7a" stroke-width="0.6"/>
<line x1="213.0" y1="61.26" x2="214.4" y2="61.26" stroke="#7a7a7a" stroke-width="0.6"/>
<line x1="358.7" y1="61.26" x2="357.3" y2="61.26" stroke="#7a7a7a" stroke-width="0.6"/>
<line x1="213.0" y1="41.88" x2="214.4" y2="41.88" stroke="#7a7a7a" stroke-width="0.6"/>
<line x1="358.7" y1="41.88" x2="357.3" y2="41.88" stroke="#7a7a7a" stroke-width="0.6"/>
<line x1="213.0" y1="22.50" x2="214.4" y2="22.50" stroke="#7a7a7a" stroke-width="0.6"/>
<line x1="358.7" y1="22.50" x2="357.3" y2="22.50" stroke="#7a7a7a" stroke-width="0.6"/>
<rect x="213.0" y="22.5" width="145.70" height="96.90" fill="none" stroke="#7a7a7a" stroke-width="1.1"/>
<text x="213.00" y="127.50" font-size="6.3" text-anchor="middle" fill="#222" class="t">0</text>
<text x="249.43" y="127.50" font-size="6.3" text-anchor="middle" fill="#222" class="t">5</text>
<text x="285.85" y="127.50" font-size="6.3" text-anchor="middle" fill="#222" class="t">10</text>
<text x="322.27" y="127.50" font-size="6.3" text-anchor="middle" fill="#222" class="t">15</text>
<text x="358.70" y="127.50" font-size="6.3" text-anchor="middle" fill="#222" class="t">20</text>
<text x="210.80" y="122.40" font-size="6.3" text-anchor="end" fill="#222" class="t">0</text>
<text x="210.80" y="103.02" font-size="6.3" text-anchor="end" fill="#222" class="t">0.2</text>
<text x="210.80" y="83.64" font-size="6.3" text-anchor="end" fill="#222" class="t">0.4</text>
<text x="210.80" y="64.26" font-size="6.3" text-anchor="end" fill="#222" class="t">0.6</text>
<text x="210.80" y="44.88" font-size="6.3" text-anchor="end" fill="#222" class="t">0.8</text>
<text x="210.80" y="25.50" font-size="6.3" text-anchor="end" fill="#222" class="t">1</text>
<text x="285.85" y="136.40" font-size="6.3" font-style="italic" text-anchor="middle" fill="#222" class="t">R</text>
<g transform="translate(198.20,80.05) rotate(-90)" fill="#222" class="t"><text x="-0.2" y="0" font-size="7.4">σ</text><text x="4.3" y="-4.6" font-size="5.4">2</text><text x="4.1" y="2.1" font-size="5.2">N</text><text transform="translate(9.0,-0.5) scale(0.86,1)" font-size="7.8">(<tspan font-style="italic">R</tspan>)</text></g>
<line x1="22.80" y1="262.9" x2="22.80" y2="261.5" stroke="#7a7a7a" stroke-width="0.6"/>
<line x1="22.80" y1="165.6" x2="22.80" y2="167.0" stroke="#7a7a7a" stroke-width="0.6"/>
<line x1="59.25" y1="262.9" x2="59.25" y2="261.5" stroke="#7a7a7a" stroke-width="0.6"/>
<line x1="59.25" y1="165.6" x2="59.25" y2="167.0" stroke="#7a7a7a" stroke-width="0.6"/>
<line x1="95.70" y1="262.9" x2="95.70" y2="261.5" stroke="#7a7a7a" stroke-width="0.6"/>
<line x1="95.70" y1="165.6" x2="95.70" y2="167.0" stroke="#7a7a7a" stroke-width="0.6"/>
<line x1="132.15" y1="262.9" x2="132.15" y2="261.5" stroke="#7a7a7a" stroke-width="0.6"/>
<line x1="132.15" y1="165.6" x2="132.15" y2="167.0" stroke="#7a7a7a" stroke-width="0.6"/>
<line x1="168.60" y1="262.9" x2="168.60" y2="261.5" stroke="#7a7a7a" stroke-width="0.6"/>
<line x1="168.60" y1="165.6" x2="168.60" y2="167.0" stroke="#7a7a7a" stroke-width="0.6"/>
<line x1="22.8" y1="262.90" x2="24.2" y2="262.90" stroke="#7a7a7a" stroke-width="0.6"/>
<line x1="168.6" y1="262.90" x2="167.2" y2="262.90" stroke="#7a7a7a" stroke-width="0.6"/>
<line x1="22.8" y1="243.44" x2="24.2" y2="243.44" stroke="#7a7a7a" stroke-width="0.6"/>
<line x1="168.6" y1="243.44" x2="167.2" y2="243.44" stroke="#7a7a7a" stroke-width="0.6"/>
<line x1="22.8" y1="223.98" x2="24.2" y2="223.98" stroke="#7a7a7a" stroke-width="0.6"/>
<line x1="168.6" y1="223.98" x2="167.2" y2="223.98" stroke="#7a7a7a" stroke-width="0.6"/>
<line x1="22.8" y1="204.52" x2="24.2" y2="204.52" stroke="#7a7a7a" stroke-width="0.6"/>
<line x1="168.6" y1="204.52" x2="167.2" y2="204.52" stroke="#7a7a7a" stroke-width="0.6"/>
<line x1="22.8" y1="185.06" x2="24.2" y2="185.06" stroke="#7a7a7a" stroke-width="0.6"/>
<line x1="168.6" y1="185.06" x2="167.2" y2="185.06" stroke="#7a7a7a" stroke-width="0.6"/>
<line x1="22.8" y1="165.60" x2="24.2" y2="165.60" stroke="#7a7a7a" stroke-width="0.6"/>
<line x1="168.6" y1="165.60" x2="167.2" y2="165.60" stroke="#7a7a7a" stroke-width="0.6"/>
<rect x="22.8" y="165.6" width="145.80" height="97.30" fill="none" stroke="#7a7a7a" stroke-width="1.1"/>
<text x="22.80" y="271.90" font-size="6.3" text-anchor="middle" fill="#222" class="t">0</text>
<text x="59.25" y="271.90" font-size="6.3" text-anchor="middle" fill="#222" class="t">5</text>
<text x="95.70" y="271.90" font-size="6.3" text-anchor="middle" fill="#222" class="t">10</text>
<text x="132.15" y="271.90" font-size="6.3" text-anchor="middle" fill="#222" class="t">15</text>
<text x="168.60" y="271.90" font-size="6.3" text-anchor="middle" fill="#222" class="t">20</text>
<text x="20.60" y="265.90" font-size="6.3" text-anchor="end" fill="#222" class="t">0</text>
<text x="20.60" y="246.44" font-size="6.3" text-anchor="end" fill="#222" class="t">0.2</text>
<text x="20.60" y="226.98" font-size="6.3" text-anchor="end" fill="#222" class="t">0.4</text>
<text x="20.60" y="207.52" font-size="6.3" text-anchor="end" fill="#222" class="t">0.6</text>
<text x="20.60" y="188.06" font-size="6.3" text-anchor="end" fill="#222" class="t">0.8</text>
<text x="20.60" y="168.60" font-size="6.3" text-anchor="end" fill="#222" class="t">1</text>
<text x="95.70" y="279.70" font-size="6.3" font-style="italic" text-anchor="middle" fill="#222" class="t">R</text>
<g transform="translate(8.00,223.35) rotate(-90)" fill="#222" class="t"><text x="-0.2" y="0" font-size="7.4">σ</text><text x="4.3" y="-4.6" font-size="5.4">2</text><text x="4.1" y="2.1" font-size="5.2">N</text><text transform="translate(9.0,-0.5) scale(0.86,1)" font-size="7.8">(<tspan font-style="italic">R</tspan>)</text></g>
<line x1="212.60" y1="263.3" x2="212.60" y2="261.90000000000003" stroke="#7a7a7a" stroke-width="0.6"/>
<line x1="212.60" y1="166.6" x2="212.60" y2="168.0" stroke="#7a7a7a" stroke-width="0.6"/>
<line x1="249.00" y1="263.3" x2="249.00" y2="261.90000000000003" stroke="#7a7a7a" stroke-width="0.6"/>
<line x1="249.00" y1="166.6" x2="249.00" y2="168.0" stroke="#7a7a7a" stroke-width="0.6"/>
<line x1="285.40" y1="263.3" x2="285.40" y2="261.90000000000003" stroke="#7a7a7a" stroke-width="0.6"/>
<line x1="285.40" y1="166.6" x2="285.40" y2="168.0" stroke="#7a7a7a" stroke-width="0.6"/>
<line x1="321.80" y1="263.3" x2="321.80" y2="261.90000000000003" stroke="#7a7a7a" stroke-width="0.6"/>
<line x1="321.80" y1="166.6" x2="321.80" y2="168.0" stroke="#7a7a7a" stroke-width="0.6"/>
<line x1="358.20" y1="263.3" x2="358.20" y2="261.90000000000003" stroke="#7a7a7a" stroke-width="0.6"/>
<line x1="358.20" y1="166.6" x2="358.20" y2="168.0" stroke="#7a7a7a" stroke-width="0.6"/>
<line x1="212.6" y1="263.30" x2="214.0" y2="263.30" stroke="#7a7a7a" stroke-width="0.6"/>
<line x1="358.2" y1="263.30" x2="356.8" y2="263.30" stroke="#7a7a7a" stroke-width="0.6"/>
<line x1="212.6" y1="243.96" x2="214.0" y2="243.96" stroke="#7a7a7a" stroke-width="0.6"/>
<line x1="358.2" y1="243.96" x2="356.8" y2="243.96" stroke="#7a7a7a" stroke-width="0.6"/>
<line x1="212.6" y1="224.62" x2="214.0" y2="224.62" stroke="#7a7a7a" stroke-width="0.6"/>
<line x1="358.2" y1="224.62" x2="356.8" y2="224.62" stroke="#7a7a7a" stroke-width="0.6"/>
<line x1="212.6" y1="205.28" x2="214.0" y2="205.28" stroke="#7a7a7a" stroke-width="0.6"/>
<line x1="358.2" y1="205.28" x2="356.8" y2="205.28" stroke="#7a7a7a" stroke-width="0.6"/>
<line x1="212.6" y1="185.94" x2="214.0" y2="185.94" stroke="#7a7a7a" stroke-width="0.6"/>
<line x1="358.2" y1="185.94" x2="356.8" y2="185.94" stroke="#7a7a7a" stroke-width="0.6"/>
<line x1="212.6" y1="166.60" x2="214.0" y2="166.60" stroke="#7a7a7a" stroke-width="0.6"/>
<line x1="358.2" y1="166.60" x2="356.8" y2="166.60" stroke="#7a7a7a" stroke-width="0.6"/>
<rect x="212.6" y="166.6" width="145.60" height="96.70" fill="none" stroke="#7a7a7a" stroke-width="1.1"/>
<text x="212.60" y="272.30" font-size="6.3" text-anchor="middle" fill="#222" class="t">0</text>
<text x="249.00" y="272.30" font-size="6.3" text-anchor="middle" fill="#222" class="t">5</text>
<text x="285.40" y="272.30" font-size="6.3" text-anchor="middle" fill="#222" class="t">10</text>
<text x="321.80" y="272.30" font-size="6.3" text-anchor="middle" fill="#222" class="t">15</text>
<text x="358.20" y="272.30" font-size="6.3" text-anchor="middle" fill="#222" class="t">20</text>
<text x="210.40" y="266.30" font-size="6.3" text-anchor="end" fill="#222" class="t">0</text>
<text x="210.40" y="246.96" font-size="6.3" text-anchor="end" fill="#222" class="t">0.2</text>
<text x="210.40" y="227.62" font-size="6.3" text-anchor="end" fill="#222" class="t">0.4</text>
<text x="210.40" y="208.28" font-size="6.3" text-anchor="end" fill="#222" class="t">0.6</text>
<text x="210.40" y="188.94" font-size="6.3" text-anchor="end" fill="#222" class="t">0.8</text>
<text x="210.40" y="169.60" font-size="6.3" text-anchor="end" fill="#222" class="t">1</text>
<text x="285.40" y="280.10" font-size="6.3" font-style="italic" text-anchor="middle" fill="#222" class="t">R</text>
<g transform="translate(197.80,224.05) rotate(-90)" fill="#222" class="t"><text x="-0.2" y="0" font-size="7.4">σ</text><text x="4.3" y="-4.6" font-size="5.4">2</text><text x="4.1" y="2.1" font-size="5.2">N</text><text transform="translate(9.0,-0.5) scale(0.86,1)" font-size="7.8">(<tspan font-style="italic">R</tspan>)</text></g>
<rect x="25.40" y="25.00" width="75.2" height="14.8" fill="#fff" stroke="#d8d8d8" stroke-width="0.5"/>
<line x1="27.00" y1="29.30" x2="36.70" y2="29.30" stroke="#a29ee8" stroke-width="0.9"/>
<line x1="27.00" y1="35.60" x2="36.70" y2="35.60" stroke="#383838" stroke-width="0.9" stroke-dasharray="2.5 2.3"/>
<text x="38.20" y="31.40" font-size="5.6" fill="#222" class="t2">Reciprocal-space (0.66)</text>
<text x="38.20" y="37.70" font-size="5.6" fill="#222" class="t2">Real-space (0.67)</text>
<rect x="215.40" y="25.10" width="75.0" height="14.8" fill="#fff" stroke="#d8d8d8" stroke-width="0.5"/>
<line x1="217.00" y1="29.40" x2="226.70" y2="29.40" stroke="#a29ee8" stroke-width="0.9"/>
<line x1="217.00" y1="35.70" x2="226.70" y2="35.70" stroke="#383838" stroke-width="0.9" stroke-dasharray="2.5 2.3"/>
<text x="228.20" y="31.50" font-size="5.6" fill="#222" class="t2">Reciprocal-space (0.79)</text>
<text x="228.20" y="37.80" font-size="5.6" fill="#222" class="t2">Real-space (0.80)</text>
<rect x="25.20" y="168.20" width="89.0" height="14.8" fill="#fff" stroke="#d8d8d8" stroke-width="0.5"/>
<line x1="26.80" y1="172.50" x2="36.50" y2="172.50" stroke="#6259ce" stroke-width="0.9"/>
<line x1="26.80" y1="178.80" x2="36.50" y2="178.80" stroke="#383838" stroke-width="0.9" stroke-dasharray="2.5 2.3"/>
<text x="38.00" y="174.60" font-size="5.6" fill="#222" class="t2">Reciprocal-space (0.33 ln(<tspan font-style="italic">R</tspan>))</text>
<text x="38.00" y="180.90" font-size="5.6" fill="#222" class="t2">Real-space (0.34 ln(<tspan font-style="italic">R</tspan>))</text>
<rect x="215.00" y="169.20" width="85.8" height="14.8" fill="#fff" stroke="#d8d8d8" stroke-width="0.5"/>
<line x1="216.60" y1="173.50" x2="226.30" y2="173.50" stroke="#6259ce" stroke-width="0.9"/>
<line x1="216.60" y1="179.80" x2="226.30" y2="179.80" stroke="#383838" stroke-width="0.9" stroke-dasharray="2.5 2.3"/>
<text x="227.80" y="175.60" font-size="5.6" fill="#222" class="t2">Reciprocal-space (0.049 <tspan font-style="italic">R</tspan>)</text>
<text x="227.80" y="181.90" font-size="5.6" fill="#222" class="t2">Real-space (0.047 <tspan font-style="italic">R</tspan>)</text>
<text transform="translate(96.6,14.7) scale(0.965,1)" font-size="7.6" font-weight="bold" text-anchor="middle" fill="#821820" stroke="#821820" stroke-width="0.15">1D periodic lattice</text>
<text transform="translate(285.2,14.8) scale(0.98,1)" font-size="7.6" font-weight="bold" text-anchor="middle" fill="#aa2a36" stroke="#aa2a36" stroke-width="0.15">Fibonacci quasicrystal</text>
<text transform="translate(96.3,157.6) scale(0.965,1)" font-size="7.6" font-weight="bold" text-anchor="middle" fill="#bb8a42" stroke="#bb8a42" stroke-width="0.15">Eigenvalues of GUE</text>
<text transform="translate(285.5,157.5) scale(0.97,1)" font-size="7.6" font-weight="bold" text-anchor="middle" fill="#3c49a8" stroke="#3c49a8" stroke-width="0.15">Uniform random distribution</text>
<text x="-0.3" y="5.3" font-size="8.3" font-weight="bold" fill="#111" stroke="#111" stroke-width="0.2">(a)</text>
<text x="184.4" y="5.3" font-size="8.3" font-weight="bold" fill="#111" stroke="#111" stroke-width="0.2">(b)</text>
<text x="-0.3" y="147.0" font-size="8.3" font-weight="bold" fill="#111" stroke="#111" stroke-width="0.2">(c)</text>
<text x="184.4" y="147.6" font-size="8.3" font-weight="bold" fill="#111" stroke="#111" stroke-width="0.2">(d)</text>
</svg></body></html>
